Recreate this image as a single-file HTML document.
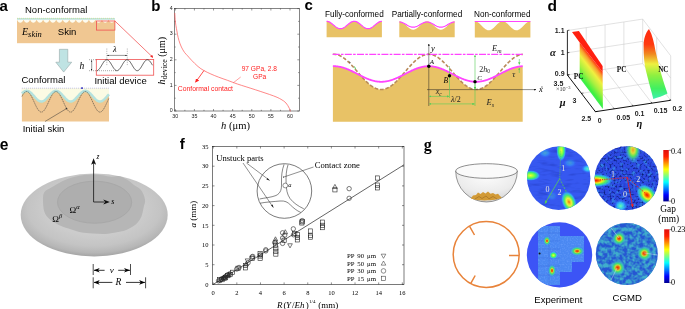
<!DOCTYPE html>
<html><head><meta charset="utf-8"><style>
html,body{margin:0;padding:0;background:#fff;width:685px;height:309px;overflow:hidden}
svg{display:block;will-change:transform}
.s{font-family:"Liberation Sans",sans-serif}
.r{font-family:"Liberation Serif",serif}
</style></head><body>
<svg width="685" height="309" viewBox="0 0 685 309">
<defs>
<marker id="ar" viewBox="0 0 10 10" refX="9" refY="5" markerWidth="4" markerHeight="4" orient="auto-start-reverse"><path d="M0,0 L10,5 L0,10 z" fill="#000"/></marker>
<marker id="arr" viewBox="0 0 10 10" refX="9" refY="5" markerWidth="5" markerHeight="5" orient="auto-start-reverse"><path d="M0,0 L10,5 L0,10 z" fill="#f22"/></marker>
<marker id="arg" viewBox="0 0 10 10" refX="9" refY="5" markerWidth="5" markerHeight="5" orient="auto-start-reverse"><path d="M0,0 L10,5 L0,10 z" fill="#3c3"/></marker>
<marker id="ar2" viewBox="0 0 10 10" refX="9" refY="5" markerWidth="3" markerHeight="3" orient="auto-start-reverse"><path d="M0,0 L10,5 L0,10 z" fill="#000"/></marker>
<marker id="arR" viewBox="0 0 10 10" refX="9" refY="5" markerWidth="4" markerHeight="4" orient="auto-start-reverse"><path d="M0,0 L10,5 L0,10 z" fill="#e22"/></marker>
<marker id="arG" viewBox="0 0 10 10" refX="9" refY="5" markerWidth="4" markerHeight="4" orient="auto-start-reverse"><path d="M0,0 L10,5 L0,10 z" fill="#5c5"/></marker>
<linearGradient id="jet" x1="0" y1="1" x2="0" y2="0">
<stop offset="0" stop-color="#00008f"/><stop offset="0.125" stop-color="#0000ff"/><stop offset="0.375" stop-color="#00ffff"/><stop offset="0.625" stop-color="#ffff00"/><stop offset="0.87" stop-color="#ff2000"/><stop offset="1" stop-color="#e01010"/>
</linearGradient>
<linearGradient id="surfL" gradientUnits="userSpaceOnUse" x1="591" y1="57.3" x2="571.2" y2="72.6">
<stop offset="0" stop-color="#ff3a10"/><stop offset="0.12" stop-color="#f8a030"/><stop offset="0.3" stop-color="#f0f040"/><stop offset="0.55" stop-color="#a8f040"/><stop offset="0.8" stop-color="#40f040"/><stop offset="1" stop-color="#30f070"/>
</linearGradient>
<linearGradient id="surfR" x1="0" y1="0" x2="0" y2="1">
<stop offset="0" stop-color="#ff2a10"/><stop offset="0.22" stop-color="#ff3a10"/><stop offset="0.36" stop-color="#f08a20"/><stop offset="0.5" stop-color="#eef040"/><stop offset="0.66" stop-color="#90f040"/><stop offset="0.85" stop-color="#40f060"/><stop offset="1" stop-color="#40f0b0"/>
</linearGradient>
<radialGradient id="eOut" cx="0.5" cy="0.42" r="0.58"><stop offset="0.55" stop-color="#cccccc"/><stop offset="0.78" stop-color="#c4c4c4"/><stop offset="0.92" stop-color="#b6b6b6"/><stop offset="1" stop-color="#a4a4a4"/></radialGradient>
<radialGradient id="bl" cx="0.5" cy="0.5" r="0.5"><stop offset="0" stop-color="#f01800"/><stop offset="0.18" stop-color="#ff7000"/><stop offset="0.35" stop-color="#f0f020"/><stop offset="0.55" stop-color="#50f060"/><stop offset="0.78" stop-color="#30c8f0" stop-opacity="0.75"/><stop offset="1" stop-color="#3060ff" stop-opacity="0"/></radialGradient>
<radialGradient id="bl2" cx="0.5" cy="0.5" r="0.5"><stop offset="0" stop-color="#e02800"/><stop offset="0.2" stop-color="#f07010"/><stop offset="0.34" stop-color="#c0d840"/><stop offset="0.52" stop-color="#40e070"/><stop offset="0.75" stop-color="#40c0c8" stop-opacity="0.6"/><stop offset="1" stop-color="#3070e0" stop-opacity="0"/></radialGradient>
<radialGradient id="blG" cx="0.5" cy="0.5" r="0.5"><stop offset="0" stop-color="#f0a020"/><stop offset="0.25" stop-color="#d8e040"/><stop offset="0.5" stop-color="#50e060"/><stop offset="0.75" stop-color="#40c0c8" stop-opacity="0.6"/><stop offset="1" stop-color="#3070e0" stop-opacity="0"/></radialGradient>
<radialGradient id="blO" cx="0.5" cy="0.5" r="0.5"><stop offset="0" stop-color="#f06010"/><stop offset="0.15" stop-color="#f0c020"/><stop offset="0.32" stop-color="#e8f040"/><stop offset="0.55" stop-color="#50f060"/><stop offset="0.78" stop-color="#30c8f0" stop-opacity="0.75"/><stop offset="1" stop-color="#3060ff" stop-opacity="0"/></radialGradient>
<radialGradient id="blY" cx="0.5" cy="0.5" r="0.5"><stop offset="0" stop-color="#f0ff30"/><stop offset="0.3" stop-color="#90ff40"/><stop offset="0.55" stop-color="#40f070"/><stop offset="0.8" stop-color="#30c8f0" stop-opacity="0.7"/><stop offset="1" stop-color="#3060ff" stop-opacity="0"/></radialGradient>
<radialGradient id="blC" cx="0.5" cy="0.5" r="0.5"><stop offset="0" stop-color="#60ffb0"/><stop offset="0.5" stop-color="#30d0ff" stop-opacity="0.8"/><stop offset="1" stop-color="#3060ff" stop-opacity="0"/></radialGradient>
<radialGradient id="bowl" cx="0.5" cy="0.2" r="0.8"><stop offset="0" stop-color="#fbfbfb"/><stop offset="0.6" stop-color="#ececec"/><stop offset="1" stop-color="#d4d4d4"/></radialGradient>
<filter id="nzD" x="0" y="0" width="100%" height="100%" color-interpolation-filters="sRGB"><feTurbulence type="fractalNoise" baseFrequency="0.5" numOctaves="2" seed="7"/><feColorMatrix type="matrix" values="0 0 0 0 0.04  0 0 0 0 0.1  0 0 0 0 0.45  3 0 0 0 -1.45"/><feComposite in2="SourceGraphic" operator="in"/></filter>
<filter id="nzC" x="0" y="0" width="100%" height="100%" color-interpolation-filters="sRGB"><feTurbulence type="fractalNoise" baseFrequency="0.25" numOctaves="2" seed="11"/><feColorMatrix type="matrix" values="0 0 0 0 0.25  0 0 0 0 0.68  0 0 0 0 0.8  2.6 0 0 0 -0.85"/><feComposite in2="SourceGraphic" operator="in"/></filter>
<filter id="nzC2" x="0" y="0" width="100%" height="100%" color-interpolation-filters="sRGB"><feTurbulence type="fractalNoise" baseFrequency="0.25" numOctaves="2" seed="21"/><feColorMatrix type="matrix" values="0 0 0 0 0.2  0 0 0 0 0.5  0 0 0 0 0.9  4 0 0 0 -2.1"/><feComposite in2="SourceGraphic" operator="in"/></filter>
<filter id="nzE" x="0" y="0" width="100%" height="100%" color-interpolation-filters="sRGB"><feTurbulence type="fractalNoise" baseFrequency="0.08 0.3" numOctaves="2" seed="5"/><feColorMatrix type="matrix" values="0 0 0 0 0.1  0 0 0 0 0.18  0 0 0 0 0.65  2 0 0 0 -1.0"/><feComposite in2="SourceGraphic" operator="in"/></filter>
<filter id="nzL" x="0" y="0" width="100%" height="100%" color-interpolation-filters="sRGB"><feTurbulence type="fractalNoise" baseFrequency="0.7" numOctaves="1" seed="3"/><feColorMatrix type="matrix" values="0 0 0 0 0.45  0 0 0 0 0.65  0 0 0 0 1  1.4 0 0 0 -0.62"/><feComposite in2="SourceGraphic" operator="in"/></filter>
<clipPath id="c1"><circle cx="558.7" cy="178.2" r="31.7"/></clipPath>
<clipPath id="c2"><circle cx="626.6" cy="178.2" r="32"/></clipPath>
<clipPath id="c3"><circle cx="559.5" cy="254.9" r="32.7"/></clipPath>
<clipPath id="c4"><circle cx="626.8" cy="254" r="31"/></clipPath>
</defs>

<text class="s" x="-0.6" y="10.7" font-size="15" font-weight="bold">a</text>
<text class="s" x="25" y="12.7" font-size="9.5">Non-conformal</text>
<rect x="17" y="18" width="98" height="25.2" fill="#f0c792"/>
<rect x="17" y="18" width="98" height="2" fill="#bfe4e2"/>
<path d="M17.00,19.8 C18.63,23.8 21.90,23.8 23.53,19.8 Z M23.53,19.8 C25.17,23.8 28.43,23.8 30.07,19.8 Z M30.07,19.8 C31.70,23.8 34.97,23.8 36.60,19.8 Z M36.60,19.8 C38.23,23.8 41.50,23.8 43.13,19.8 Z M43.13,19.8 C44.77,23.8 48.03,23.8 49.67,19.8 Z M49.67,19.8 C51.30,23.8 54.57,23.8 56.20,19.8 Z M56.20,19.8 C57.83,23.8 61.10,23.8 62.73,19.8 Z M62.73,19.8 C64.37,23.8 67.63,23.8 69.27,19.8 Z M69.27,19.8 C70.90,23.8 74.17,23.8 75.80,19.8 Z M75.80,19.8 C77.43,23.8 80.70,23.8 82.33,19.8 Z M82.33,19.8 C83.97,23.8 87.23,23.8 88.87,19.8 Z M88.87,19.8 C90.50,23.8 93.77,23.8 95.40,19.8 Z M95.40,19.8 C97.03,23.8 100.30,23.8 101.93,19.8 Z M101.93,19.8 C103.57,23.8 106.83,23.8 108.47,19.8 Z M108.47,19.8 C110.10,23.8 113.37,23.8 115.00,19.8 Z" fill="#fdfcf0"/>
<line x1="17" y1="18.3" x2="115" y2="18.3" stroke="#d8d870" stroke-width="0.6" stroke-dasharray="1,1"/>
<rect x="96.5" y="21" width="18.4" height="9.1" fill="none" stroke="#f05050" stroke-width="0.8"/>
<line x1="114.9" y1="21" x2="153" y2="57.5" stroke="#f04040" stroke-width="0.7" marker-end="url(#arR)"/>
<text class="r" x="22" y="35.4" font-size="10" font-style="italic">E<tspan font-size="8.5" dy="1.2">skin</tspan></text>
<text class="s" x="57.8" y="35" font-size="9.5">Skin</text>
<path d="M59.4,49.3 L67.8,49.3 L67.8,62.2 L71.7,62.2 L63.7,72.1 L55.8,62.2 L59.4,62.2 Z" fill="#bfe3e3" stroke="#8a9a9a" stroke-width="0.5"/>
<text class="s" x="21.5" y="83.3" font-size="9.5">Conformal</text>
<text class="r" x="79.5" y="68.8" font-size="9.5" font-style="italic">h</text>
<line x1="91.7" y1="60.4" x2="91.7" y2="70.4" stroke="#333" stroke-width="0.5" marker-start="url(#ar2)" marker-end="url(#ar2)"/>
<line x1="89" y1="59.7" x2="97" y2="59.7" stroke="#555" stroke-width="0.5" stroke-dasharray="1,1"/>
<line x1="89" y1="70.7" x2="117" y2="70.7" stroke="#555" stroke-width="0.5" stroke-dasharray="1,1"/>
<rect x="96.3" y="59.4" width="57.4" height="15.8" fill="none" stroke="#f05050" stroke-width="0.8"/>
<polyline points="96.80,70.69 97.29,70.59 97.79,70.36 98.28,70.02 98.77,69.56 99.26,69.00 99.76,68.35 100.25,67.62 100.74,66.85 101.24,66.03 101.73,65.19 102.22,64.36 102.72,63.54 103.21,62.76 103.70,62.04 104.19,61.39 104.69,60.84 105.18,60.38 105.67,60.03 106.17,59.81 106.66,59.71 107.15,59.73 107.64,59.89 108.14,60.16 108.63,60.56 109.12,61.06 109.62,61.66 110.11,62.34 110.60,63.09 111.09,63.88 111.59,64.71 112.08,65.55 112.57,66.38 113.07,67.18 113.56,67.94 114.05,68.63 114.55,69.25 115.04,69.76 115.53,70.18 116.02,70.48 116.52,70.65 117.01,70.70 117.50,70.62 118.00,70.41 118.49,70.09 118.98,69.65 119.47,69.10 119.97,68.47 120.46,67.76 120.95,66.99 121.45,66.18 121.94,65.35 122.43,64.51 122.92,63.69 123.42,62.90 123.91,62.17 124.40,61.51 124.90,60.93 125.39,60.45 125.88,60.09 126.38,59.84 126.87,59.71 127.36,59.72 127.85,59.85 128.35,60.10 128.84,60.48 129.33,60.96 129.83,61.54 130.32,62.21 130.81,62.95 131.30,63.74 131.80,64.56 132.29,65.40 132.78,66.23 133.28,67.04 133.77,67.80 134.26,68.51 134.75,69.14 135.25,69.68 135.74,70.11 136.23,70.43 136.73,70.63 137.22,70.70 137.71,70.64 138.21,70.46 138.70,70.16 139.19,69.74 139.68,69.21 140.18,68.59 140.67,67.90 141.16,67.14 141.66,66.33 142.15,65.50 142.64,64.66 143.13,63.84 143.63,63.04 144.12,62.30 144.61,61.62 145.11,61.03 145.60,60.53 146.09,60.14 146.58,59.87 147.08,59.73 147.57,59.71 148.06,59.82 148.56,60.05 149.05,60.40 149.54,60.87 150.04,61.43 150.53,62.08 151.02,62.81 151.51,63.59 152.01,64.41 152.50,65.24" fill="none" stroke="#333" stroke-width="0.8"/>
<line x1="106.8" y1="48.5" x2="106.8" y2="66" stroke="#777" stroke-width="0.5" stroke-dasharray="1.2,1"/>
<line x1="127.3" y1="48.5" x2="127.3" y2="66" stroke="#777" stroke-width="0.5" stroke-dasharray="1.2,1"/>
<line x1="107.3" y1="55.4" x2="126.8" y2="55.4" stroke="#333" stroke-width="0.5" marker-start="url(#ar2)" marker-end="url(#ar2)"/>
<text class="r" x="113" y="52.3" font-size="8.5" font-style="italic">λ</text>
<text class="s" x="94.4" y="84" font-size="9.5">Initial device</text>
<rect x="21.9" y="88" width="87.1" height="33.5" fill="#f0c792"/>
<polygon points="21.9,88 109,88 109.00,94.28 108.51,94.82 108.01,95.37 107.52,95.93 107.02,96.49 106.53,97.05 106.03,97.60 105.54,98.13 105.04,98.64 104.55,99.13 104.05,99.58 103.56,99.99 103.06,100.36 102.57,100.69 102.07,100.96 101.58,101.18 101.08,101.34 100.59,101.45 100.09,101.50 99.60,101.48 99.10,101.41 98.61,101.28 98.11,101.09 97.62,100.85 97.12,100.56 96.63,100.21 96.13,99.82 95.64,99.39 95.14,98.92 94.65,98.43 94.15,97.91 93.66,97.37 93.16,96.81 92.67,96.25 92.17,95.69 91.68,95.13 91.18,94.59 90.69,94.06 90.19,93.56 89.70,93.09 89.20,92.65 88.71,92.25 88.21,91.90 87.72,91.60 87.22,91.35 86.73,91.15 86.24,91.01 85.74,90.92 85.25,90.90 84.75,90.94 84.26,91.03 83.76,91.19 83.27,91.40 82.77,91.66 82.28,91.98 81.78,92.34 81.29,92.74 80.79,93.19 80.30,93.67 79.80,94.18 79.31,94.71 78.81,95.25 78.32,95.81 77.82,96.37 77.33,96.93 76.83,97.49 76.34,98.02 75.84,98.54 75.35,99.03 74.85,99.49 74.36,99.91 73.86,100.29 73.37,100.62 72.87,100.91 72.38,101.14 71.88,101.32 71.39,101.43 70.89,101.49 70.40,101.49 69.90,101.43 69.41,101.31 68.91,101.14 68.42,100.91 67.92,100.62 67.43,100.29 66.93,99.90 66.44,99.48 65.94,99.02 65.45,98.53 64.96,98.02 64.46,97.48 63.97,96.93 63.47,96.37 62.98,95.80 62.48,95.25 61.99,94.70 61.49,94.17 61.00,93.66 60.50,93.18 60.01,92.74 59.51,92.33 59.02,91.97 58.52,91.66 58.03,91.39 57.53,91.18 57.04,91.03 56.54,90.94 56.05,90.90 55.55,90.92 55.06,91.01 54.56,91.15 54.07,91.35 53.57,91.60 53.08,91.91 52.58,92.26 52.09,92.66 51.59,93.10 51.10,93.57 50.60,94.07 50.11,94.60 49.61,95.14 49.12,95.70 48.62,96.26 48.13,96.82 47.63,97.37 47.14,97.91 46.64,98.44 46.15,98.93 45.65,99.40 45.16,99.83 44.66,100.22 44.17,100.56 43.67,100.85 43.18,101.10 42.69,101.28 42.19,101.41 41.70,101.49 41.20,101.50 40.71,101.45 40.21,101.34 39.72,101.18 39.22,100.96 38.73,100.68 38.23,100.36 37.74,99.99 37.24,99.57 36.75,99.12 36.25,98.64 35.76,98.12 35.26,97.59 34.77,97.04 34.27,96.48 33.78,95.92 33.28,95.36 32.79,94.81 32.29,94.28 31.80,93.76 31.30,93.28 30.81,92.83 30.31,92.41 29.82,92.04 29.32,91.72 28.83,91.44 28.33,91.22 27.84,91.06 27.34,90.95 26.85,90.90 26.35,90.91 25.86,90.99 25.36,91.12 24.87,91.30 24.37,91.55 23.88,91.84 23.38,92.18 22.89,92.57 22.39,93.00 21.90,93.47" fill="#fbfbe4"/>
<polyline points="21.90,93.47 22.39,93.00 22.89,92.57 23.38,92.18 23.88,91.84 24.37,91.55 24.87,91.30 25.36,91.12 25.86,90.99 26.35,90.91 26.85,90.90 27.34,90.95 27.84,91.06 28.33,91.22 28.83,91.44 29.32,91.72 29.82,92.04 30.31,92.41 30.81,92.83 31.30,93.28 31.80,93.76 32.29,94.28 32.79,94.81 33.28,95.36 33.78,95.92 34.27,96.48 34.77,97.04 35.26,97.59 35.76,98.12 36.25,98.64 36.75,99.12 37.24,99.57 37.74,99.99 38.23,100.36 38.73,100.68 39.22,100.96 39.72,101.18 40.21,101.34 40.71,101.45 41.20,101.50 41.70,101.49 42.19,101.41 42.69,101.28 43.18,101.10 43.67,100.85 44.17,100.56 44.66,100.22 45.16,99.83 45.65,99.40 46.15,98.93 46.64,98.44 47.14,97.91 47.63,97.37 48.13,96.82 48.62,96.26 49.12,95.70 49.61,95.14 50.11,94.60 50.60,94.07 51.10,93.57 51.59,93.10 52.09,92.66 52.58,92.26 53.08,91.91 53.57,91.60 54.07,91.35 54.56,91.15 55.06,91.01 55.55,90.92 56.05,90.90 56.54,90.94 57.04,91.03 57.53,91.18 58.03,91.39 58.52,91.66 59.02,91.97 59.51,92.33 60.01,92.74 60.50,93.18 61.00,93.66 61.49,94.17 61.99,94.70 62.48,95.25 62.98,95.80 63.47,96.37 63.97,96.93 64.46,97.48 64.96,98.02 65.45,98.53 65.94,99.02 66.44,99.48 66.93,99.90 67.43,100.29 67.92,100.62 68.42,100.91 68.91,101.14 69.41,101.31 69.90,101.43 70.40,101.49 70.89,101.49 71.39,101.43 71.88,101.32 72.38,101.14 72.87,100.91 73.37,100.62 73.86,100.29 74.36,99.91 74.85,99.49 75.35,99.03 75.84,98.54 76.34,98.02 76.83,97.49 77.33,96.93 77.82,96.37 78.32,95.81 78.81,95.25 79.31,94.71 79.80,94.18 80.30,93.67 80.79,93.19 81.29,92.74 81.78,92.34 82.28,91.98 82.77,91.66 83.27,91.40 83.76,91.19 84.26,91.03 84.75,90.94 85.25,90.90 85.74,90.92 86.24,91.01 86.73,91.15 87.22,91.35 87.72,91.60 88.21,91.90 88.71,92.25 89.20,92.65 89.70,93.09 90.19,93.56 90.69,94.06 91.18,94.59 91.68,95.13 92.17,95.69 92.67,96.25 93.16,96.81 93.66,97.37 94.15,97.91 94.65,98.43 95.14,98.92 95.64,99.39 96.13,99.82 96.63,100.21 97.12,100.56 97.62,100.85 98.11,101.09 98.61,101.28 99.10,101.41 99.60,101.48 100.09,101.50 100.59,101.45 101.08,101.34 101.58,101.18 102.07,100.96 102.57,100.69 103.06,100.36 103.56,99.99 104.05,99.58 104.55,99.13 105.04,98.64 105.54,98.13 106.03,97.60 106.53,97.05 107.02,96.49 107.52,95.93 108.01,95.37 108.51,94.82 109.00,94.28" fill="none" stroke="#b4e2de" stroke-width="2.6"/>
<polyline points="21.90,95.37 22.39,94.90 22.89,94.47 23.38,94.08 23.88,93.74 24.37,93.45 24.87,93.20 25.36,93.02 25.86,92.89 26.35,92.81 26.85,92.80 27.34,92.85 27.84,92.96 28.33,93.12 28.83,93.34 29.32,93.62 29.82,93.94 30.31,94.31 30.81,94.73 31.30,95.18 31.80,95.66 32.29,96.18 32.79,96.71 33.28,97.26 33.78,97.82 34.27,98.38 34.77,98.94 35.26,99.49 35.76,100.02 36.25,100.54 36.75,101.02 37.24,101.47 37.74,101.89 38.23,102.26 38.73,102.58 39.22,102.86 39.72,103.08 40.21,103.24 40.71,103.35 41.20,103.40 41.70,103.39 42.19,103.31 42.69,103.18 43.18,103.00 43.67,102.75 44.17,102.46 44.66,102.12 45.16,101.73 45.65,101.30 46.15,100.83 46.64,100.34 47.14,99.81 47.63,99.27 48.13,98.72 48.62,98.16 49.12,97.60 49.61,97.04 50.11,96.50 50.60,95.97 51.10,95.47 51.59,95.00 52.09,94.56 52.58,94.16 53.08,93.81 53.57,93.50 54.07,93.25 54.56,93.05 55.06,92.91 55.55,92.82 56.05,92.80 56.54,92.84 57.04,92.93 57.53,93.08 58.03,93.29 58.52,93.56 59.02,93.87 59.51,94.23 60.01,94.64 60.50,95.08 61.00,95.56 61.49,96.07 61.99,96.60 62.48,97.15 62.98,97.70 63.47,98.27 63.97,98.83 64.46,99.38 64.96,99.92 65.45,100.43 65.94,100.92 66.44,101.38 66.93,101.80 67.43,102.19 67.92,102.52 68.42,102.81 68.91,103.04 69.41,103.21 69.90,103.33 70.40,103.39 70.89,103.39 71.39,103.33 71.88,103.22 72.38,103.04 72.87,102.81 73.37,102.52 73.86,102.19 74.36,101.81 74.85,101.39 75.35,100.93 75.84,100.44 76.34,99.92 76.83,99.39 77.33,98.83 77.82,98.27 78.32,97.71 78.81,97.15 79.31,96.61 79.80,96.08 80.30,95.57 80.79,95.09 81.29,94.64 81.78,94.24 82.28,93.88 82.77,93.56 83.27,93.30 83.76,93.09 84.26,92.93 84.75,92.84 85.25,92.80 85.74,92.82 86.24,92.91 86.73,93.05 87.22,93.25 87.72,93.50 88.21,93.80 88.71,94.15 89.20,94.55 89.70,94.99 90.19,95.46 90.69,95.96 91.18,96.49 91.68,97.03 92.17,97.59 92.67,98.15 93.16,98.71 93.66,99.27 94.15,99.81 94.65,100.33 95.14,100.82 95.64,101.29 96.13,101.72 96.63,102.11 97.12,102.46 97.62,102.75 98.11,102.99 98.61,103.18 99.10,103.31 99.60,103.38 100.09,103.40 100.59,103.35 101.08,103.24 101.58,103.08 102.07,102.86 102.57,102.59 103.06,102.26 103.56,101.89 104.05,101.48 104.55,101.03 105.04,100.54 105.54,100.03 106.03,99.50 106.53,98.95 107.02,98.39 107.52,97.83 108.01,97.27 108.51,96.72 109.00,96.18" fill="none" stroke="#d8d890" stroke-width="0.6" stroke-dasharray="1,1"/>
<line x1="21.9" y1="88.2" x2="109" y2="88.2" stroke="#9a9ae0" stroke-width="0.6" stroke-dasharray="1,1"/>
<rect x="81" y="87.4" width="2" height="1.4" fill="#3030c0"/>
<polyline points="21.90,96.49 22.39,95.59 22.89,94.75 23.38,94.00 23.88,93.33 24.37,92.75 24.87,92.28 25.36,91.92 25.86,91.67 26.35,91.53 26.85,91.51 27.34,91.60 27.84,91.81 28.33,92.13 28.83,92.55 29.32,93.09 29.82,93.72 30.31,94.44 30.81,95.24 31.30,96.12 31.80,97.07 32.29,98.06 32.79,99.10 33.28,100.17 33.78,101.25 34.27,102.35 34.77,103.43 35.26,104.50 35.76,105.54 36.25,106.53 36.75,107.48 37.24,108.35 37.74,109.16 38.23,109.88 38.73,110.51 39.22,111.05 39.72,111.47 40.21,111.79 40.71,112.00 41.20,112.09 41.70,112.07 42.19,111.93 42.69,111.68 43.18,111.32 43.67,110.85 44.17,110.27 44.66,109.61 45.16,108.85 45.65,108.01 46.15,107.11 46.64,106.14 47.14,105.13 47.63,104.08 48.13,103.00 48.62,101.91 49.12,100.82 49.61,99.74 50.11,98.68 50.60,97.66 51.10,96.69 51.59,95.77 52.09,94.92 52.58,94.14 53.08,93.46 53.57,92.86 54.07,92.37 54.56,91.99 55.06,91.71 55.55,91.55 56.05,91.50 56.54,91.57 57.04,91.75 57.53,92.05 58.03,92.46 58.52,92.97 59.02,93.58 59.51,94.28 60.01,95.07 60.50,95.94 61.00,96.87 61.49,97.85 61.99,98.88 62.48,99.95 62.98,101.03 63.47,102.12 63.97,103.21 64.46,104.28 64.96,105.33 65.45,106.33 65.94,107.29 66.44,108.18 66.93,109.00 67.43,109.74 67.92,110.39 68.42,110.94 68.91,111.39 69.41,111.74 69.90,111.97 70.40,112.09 70.89,112.09 71.39,111.97 71.88,111.74 72.38,111.40 72.87,110.95 73.37,110.40 73.86,109.75 74.36,109.01 74.85,108.19 75.35,107.30 75.84,106.35 76.34,105.34 76.83,104.30 77.33,103.23 77.82,102.14 78.32,101.05 78.81,99.96 79.31,98.90 79.80,97.87 80.30,96.88 80.79,95.95 81.29,95.09 81.78,94.30 82.28,93.59 82.77,92.98 83.27,92.46 83.76,92.06 84.26,91.76 84.75,91.57 85.25,91.50 85.74,91.55 86.24,91.71 86.73,91.98 87.22,92.37 87.72,92.86 88.21,93.45 88.71,94.13 89.20,94.90 89.70,95.75 90.19,96.67 90.69,97.65 91.18,98.67 91.68,99.72 92.17,100.81 92.67,101.90 93.16,102.99 93.66,104.06 94.15,105.12 94.65,106.13 95.14,107.10 95.64,108.00 96.13,108.84 96.63,109.59 97.12,110.26 97.62,110.84 98.11,111.31 98.61,111.68 99.10,111.93 99.60,112.07 100.09,112.10 100.59,112.00 101.08,111.80 101.58,111.48 102.07,111.05 102.57,110.52 103.06,109.89 103.56,109.17 104.05,108.37 104.55,107.49 105.04,106.55 105.54,105.55 106.03,104.52 106.53,103.45 107.02,102.36 107.52,101.27 108.01,100.18 108.51,99.11 109.00,98.08" fill="none" stroke="#333" stroke-width="0.55" stroke-dasharray="1.5,0.6"/>
<line x1="45" y1="121.5" x2="66.5" y2="108.6" stroke="#333" stroke-width="0.5"/>
<circle cx="66.5" cy="108.6" r="0.8" fill="#333"/>
<text class="s" x="22.7" y="131.7" font-size="9.5">Initial skin</text>
<text class="s" x="151.2" y="10.7" font-size="15" font-weight="bold">b</text>
<rect x="174.5" y="8.5" width="124.80000000000001" height="102.5" fill="none" stroke="#333" stroke-width="0.6"/>
<text class="s" x="175.30" y="117.9" font-size="5.3" text-anchor="middle" fill="#222">30</text>
<text class="s" x="194.42" y="117.9" font-size="5.3" text-anchor="middle" fill="#222">35</text>
<text class="s" x="213.53" y="117.9" font-size="5.3" text-anchor="middle" fill="#222">40</text>
<text class="s" x="232.65" y="117.9" font-size="5.3" text-anchor="middle" fill="#222">45</text>
<text class="s" x="251.77" y="117.9" font-size="5.3" text-anchor="middle" fill="#222">50</text>
<text class="s" x="270.88" y="117.9" font-size="5.3" text-anchor="middle" fill="#222">55</text>
<text class="s" x="290.00" y="117.9" font-size="5.3" text-anchor="middle" fill="#222">60</text>
<text class="s" x="172.8" y="112.15" font-size="5.3" text-anchor="end" fill="#222">0</text>
<text class="s" x="172.8" y="86.55" font-size="5.3" text-anchor="end" fill="#222">1</text>
<text class="s" x="172.8" y="60.95" font-size="5.3" text-anchor="end" fill="#222">2</text>
<text class="s" x="172.8" y="35.35" font-size="5.3" text-anchor="end" fill="#222">3</text>
<text class="s" x="172.8" y="9.75" font-size="5.3" text-anchor="end" fill="#222">4</text>
<path d="M175.30,111 v-2 M175.30,8.5 v2 M194.42,111 v-2 M194.42,8.5 v2 M213.53,111 v-2 M213.53,8.5 v2 M232.65,111 v-2 M232.65,8.5 v2 M251.77,111 v-2 M251.77,8.5 v2 M270.88,111 v-2 M270.88,8.5 v2 M290.00,111 v-2 M290.00,8.5 v2 M174.5,111.00 h2 M299.3,111.00 h-2 M174.5,85.40 h2 M299.3,85.40 h-2 M174.5,59.80 h2 M299.3,59.80 h-2 M174.5,34.20 h2 M299.3,34.20 h-2 M174.5,8.60 h2 M299.3,8.60 h-2 M184.86,111 v-1.2 M184.86,8.5 v1.2 M203.98,111 v-1.2 M203.98,8.5 v1.2 M223.09,111 v-1.2 M223.09,8.5 v1.2 M242.21,111 v-1.2 M242.21,8.5 v1.2 M261.32,111 v-1.2 M261.32,8.5 v1.2 M280.44,111 v-1.2 M280.44,8.5 v1.2 M174.5,98.20 h1.2 M299.3,98.20 h-1.2 M174.5,72.60 h1.2 M299.3,72.60 h-1.2 M174.5,47.00 h1.2 M299.3,47.00 h-1.2 M174.5,21.40 h1.2 M299.3,21.40 h-1.2" stroke="#333" stroke-width="0.5" fill="none"/>
<text class="r" transform="translate(164.6,84.6) rotate(-90)" font-size="10"><tspan font-style="italic">h</tspan><tspan font-size="7.8" dy="2">device</tspan><tspan dy="-2"> (μm)</tspan></text>
<text class="r" x="221" y="128.7" font-size="10.6"><tspan font-style="italic">h</tspan> (μm)</text>
<path d="M174.8,13 C174.90,14.50 175.13,19.45 175.4,22 C175.67,24.55 176.05,26.22 176.4,28.3 C176.75,30.38 177.07,32.43 177.5,34.5 C177.93,36.57 178.35,38.62 179,40.7 C179.65,42.78 180.48,45.05 181.4,47 C182.32,48.95 183.47,50.93 184.5,52.4 C185.53,53.87 186.43,54.50 187.6,55.8 C188.77,57.10 189.77,58.42 191.5,60.2 C193.23,61.98 195.95,64.78 198,66.5 C200.05,68.22 201.65,69.25 203.8,70.5 C205.95,71.75 208.42,72.88 210.9,74 C213.38,75.12 215.90,76.13 218.7,77.2 C221.50,78.27 224.53,79.25 227.7,80.4 C230.87,81.55 233.07,82.53 237.7,84.1 C242.33,85.67 249.57,87.85 255.5,89.8 C261.43,91.75 269.05,94.22 273.3,95.8 C277.55,97.38 278.88,98.10 281,99.3 C283.12,100.50 284.62,101.50 286,103 C287.38,104.50 288.57,106.88 289.3,108.3 C290.03,109.72 290.22,110.97 290.4,111.5" fill="none" stroke="#f55" stroke-width="0.7"/>
<line x1="204" y1="70.5" x2="195.5" y2="82.3" stroke="#f22" stroke-width="0.8" marker-end="url(#arr)"/>
<line x1="233.3" y1="82.8" x2="240.7" y2="77" stroke="#f44" stroke-width="0.5"/>
<text class="s" x="177.8" y="91.4" font-size="6.8" fill="#f22">Conformal contact</text>
<text class="s" x="241.7" y="70.9" font-size="6.6" fill="#f22">97 GPa, 2.8</text>
<text class="s" x="253" y="78.9" font-size="6.6" fill="#f22">GPa</text>
<text class="s" x="304.5" y="10.4" font-size="15" font-weight="bold">c</text>
<text class="s" x="325" y="16.6" font-size="8.2">Fully-conformed</text>
<text class="s" x="391.7" y="16.6" font-size="8.2">Partially-conformed</text>
<text class="s" x="474" y="16.6" font-size="8.2">Non-conformed</text>
<polygon points="326.60,21.30 327.09,21.32 327.59,21.39 328.08,21.51 328.58,21.67 329.07,21.87 329.56,22.11 330.06,22.38 330.55,22.69 331.04,23.03 331.54,23.39 332.03,23.78 332.53,24.18 333.02,24.59 333.51,25.00 334.01,25.41 334.50,25.82 334.99,26.22 335.49,26.61 335.98,26.97 336.48,27.31 336.97,27.62 337.46,27.89 337.96,28.13 338.45,28.33 338.94,28.49 339.44,28.61 339.93,28.68 340.43,28.70 340.92,28.68 341.41,28.61 341.91,28.49 342.40,28.33 342.89,28.13 343.39,27.89 343.88,27.62 344.38,27.31 344.87,26.97 345.36,26.61 345.86,26.22 346.35,25.82 346.84,25.41 347.34,25.00 347.83,24.59 348.32,24.18 348.82,23.78 349.31,23.39 349.81,23.03 350.30,22.69 350.79,22.38 351.29,22.11 351.78,21.87 352.27,21.67 352.77,21.51 353.26,21.39 353.76,21.32 354.25,21.30 354.74,21.32 355.24,21.39 355.73,21.51 356.23,21.67 356.72,21.87 357.21,22.11 357.71,22.38 358.20,22.69 358.69,23.03 359.19,23.39 359.68,23.78 360.18,24.18 360.67,24.59 361.16,25.00 361.66,25.41 362.15,25.82 362.64,26.22 363.14,26.61 363.63,26.97 364.12,27.31 364.62,27.62 365.11,27.89 365.61,28.13 366.10,28.33 366.59,28.49 367.09,28.61 367.58,28.68 368.07,28.70 368.57,28.68 369.06,28.61 369.56,28.49 370.05,28.33 370.54,28.13 371.04,27.89 371.53,27.62 372.02,27.31 372.52,26.97 373.01,26.61 373.51,26.22 374.00,25.82 374.49,25.41 374.99,25.00 375.48,24.59 375.97,24.18 376.47,23.78 376.96,23.39 377.46,23.03 377.95,22.69 378.44,22.38 378.94,22.11 379.43,21.87 379.92,21.67 380.42,21.51 380.91,21.39 381.41,21.32 381.90,21.30 381.9,37.3 326.6,37.3" fill="#e8c266"/>
<polyline points="326.60,21.30 327.09,21.32 327.59,21.39 328.08,21.51 328.58,21.67 329.07,21.87 329.56,22.11 330.06,22.38 330.55,22.69 331.04,23.03 331.54,23.39 332.03,23.78 332.53,24.18 333.02,24.59 333.51,25.00 334.01,25.41 334.50,25.82 334.99,26.22 335.49,26.61 335.98,26.97 336.48,27.31 336.97,27.62 337.46,27.89 337.96,28.13 338.45,28.33 338.94,28.49 339.44,28.61 339.93,28.68 340.43,28.70 340.92,28.68 341.41,28.61 341.91,28.49 342.40,28.33 342.89,28.13 343.39,27.89 343.88,27.62 344.38,27.31 344.87,26.97 345.36,26.61 345.86,26.22 346.35,25.82 346.84,25.41 347.34,25.00 347.83,24.59 348.32,24.18 348.82,23.78 349.31,23.39 349.81,23.03 350.30,22.69 350.79,22.38 351.29,22.11 351.78,21.87 352.27,21.67 352.77,21.51 353.26,21.39 353.76,21.32 354.25,21.30 354.74,21.32 355.24,21.39 355.73,21.51 356.23,21.67 356.72,21.87 357.21,22.11 357.71,22.38 358.20,22.69 358.69,23.03 359.19,23.39 359.68,23.78 360.18,24.18 360.67,24.59 361.16,25.00 361.66,25.41 362.15,25.82 362.64,26.22 363.14,26.61 363.63,26.97 364.12,27.31 364.62,27.62 365.11,27.89 365.61,28.13 366.10,28.33 366.59,28.49 367.09,28.61 367.58,28.68 368.07,28.70 368.57,28.68 369.06,28.61 369.56,28.49 370.05,28.33 370.54,28.13 371.04,27.89 371.53,27.62 372.02,27.31 372.52,26.97 373.01,26.61 373.51,26.22 374.00,25.82 374.49,25.41 374.99,25.00 375.48,24.59 375.97,24.18 376.47,23.78 376.96,23.39 377.46,23.03 377.95,22.69 378.44,22.38 378.94,22.11 379.43,21.87 379.92,21.67 380.42,21.51 380.91,21.39 381.41,21.32 381.90,21.30" fill="none" stroke="#ff44ff" stroke-width="1.2"/>
<polygon points="399.30,21.30 399.79,21.33 400.29,21.41 400.78,21.54 401.28,21.72 401.77,21.94 402.27,22.22 402.76,22.53 403.26,22.88 403.75,23.27 404.25,23.68 404.74,24.11 405.24,24.57 405.73,25.03 406.23,25.50 406.72,25.97 407.21,26.43 407.71,26.89 408.20,27.32 408.70,27.73 409.19,28.12 409.69,28.47 410.18,28.78 410.68,29.06 411.17,29.28 411.67,29.46 412.16,29.59 412.66,29.67 413.15,29.70 413.64,29.67 414.14,29.59 414.63,29.46 415.13,29.28 415.62,29.06 416.12,28.78 416.61,28.47 417.11,28.12 417.60,27.73 418.10,27.32 418.59,26.89 419.09,26.43 419.58,25.97 420.07,25.50 420.57,25.03 421.06,24.57 421.56,24.11 422.05,23.68 422.55,23.27 423.04,22.88 423.54,22.53 424.03,22.22 424.53,21.94 425.02,21.72 425.52,21.54 426.01,21.41 426.51,21.33 427.00,21.30 427.49,21.33 427.99,21.41 428.48,21.54 428.98,21.72 429.47,21.94 429.97,22.22 430.46,22.53 430.96,22.88 431.45,23.27 431.95,23.68 432.44,24.11 432.94,24.57 433.43,25.03 433.93,25.50 434.42,25.97 434.91,26.43 435.41,26.89 435.90,27.32 436.40,27.73 436.89,28.12 437.39,28.47 437.88,28.78 438.38,29.06 438.87,29.28 439.37,29.46 439.86,29.59 440.36,29.67 440.85,29.70 441.34,29.67 441.84,29.59 442.33,29.46 442.83,29.28 443.32,29.06 443.82,28.78 444.31,28.47 444.81,28.12 445.30,27.73 445.80,27.32 446.29,26.89 446.79,26.43 447.28,25.97 447.77,25.50 448.27,25.03 448.76,24.57 449.26,24.11 449.75,23.68 450.25,23.27 450.74,22.88 451.24,22.53 451.73,22.22 452.23,21.94 452.72,21.72 453.22,21.54 453.71,21.41 454.21,21.33 454.70,21.30 454.7,37.3 399.3,37.3" fill="#e8c266"/>
<polyline points="399.30,22.00 399.79,22.02 400.29,22.07 400.78,22.15 401.28,22.26 401.77,22.40 402.27,22.57 402.76,22.76 403.26,22.98 403.75,23.22 404.25,23.47 404.74,23.74 405.24,24.02 405.73,24.31 406.23,24.60 406.72,24.89 407.21,25.18 407.71,25.46 408.20,25.73 408.70,25.98 409.19,26.22 409.69,26.44 410.18,26.63 410.68,26.80 411.17,26.94 411.67,27.05 412.16,27.13 412.66,27.18 413.15,27.20 413.64,27.18 414.14,27.13 414.63,27.05 415.13,26.94 415.62,26.80 416.12,26.63 416.61,26.44 417.11,26.22 417.60,25.98 418.10,25.73 418.59,25.46 419.09,25.18 419.58,24.89 420.07,24.60 420.57,24.31 421.06,24.02 421.56,23.74 422.05,23.47 422.55,23.22 423.04,22.98 423.54,22.76 424.03,22.57 424.53,22.40 425.02,22.26 425.52,22.15 426.01,22.07 426.51,22.02 427.00,22.00 427.49,22.02 427.99,22.07 428.48,22.15 428.98,22.26 429.47,22.40 429.97,22.57 430.46,22.76 430.96,22.98 431.45,23.22 431.95,23.47 432.44,23.74 432.94,24.02 433.43,24.31 433.93,24.60 434.42,24.89 434.91,25.18 435.41,25.46 435.90,25.73 436.40,25.98 436.89,26.22 437.39,26.44 437.88,26.63 438.38,26.80 438.87,26.94 439.37,27.05 439.86,27.13 440.36,27.18 440.85,27.20 441.34,27.18 441.84,27.13 442.33,27.05 442.83,26.94 443.32,26.80 443.82,26.63 444.31,26.44 444.81,26.22 445.30,25.98 445.80,25.73 446.29,25.46 446.79,25.18 447.28,24.89 447.77,24.60 448.27,24.31 448.76,24.02 449.26,23.74 449.75,23.47 450.25,23.22 450.74,22.98 451.24,22.76 451.73,22.57 452.23,22.40 452.72,22.26 453.22,22.15 453.71,22.07 454.21,22.02 454.70,22.00" fill="none" stroke="#ff44ff" stroke-width="1.2"/>
<polygon points="474.80,21.30 475.29,21.33 475.78,21.41 476.28,21.55 476.77,21.74 477.26,21.98 477.75,22.27 478.24,22.60 478.74,22.97 479.23,23.37 479.72,23.81 480.21,24.27 480.70,24.75 481.20,25.24 481.69,25.74 482.18,26.24 482.67,26.73 483.16,27.21 483.66,27.68 484.15,28.12 484.64,28.54 485.13,28.91 485.62,29.26 486.12,29.55 486.61,29.81 487.10,30.01 487.59,30.16 488.08,30.26 488.58,30.30 489.07,30.28 489.56,30.22 490.05,30.09 490.55,29.91 491.04,29.69 491.53,29.41 492.02,29.09 492.51,28.73 493.01,28.33 493.50,27.90 493.99,27.45 494.48,26.97 494.97,26.49 495.47,25.99 495.96,25.49 496.45,24.99 496.94,24.50 497.43,24.03 497.93,23.59 498.42,23.17 498.91,22.78 499.40,22.43 499.89,22.12 500.39,21.85 500.88,21.64 501.37,21.47 501.86,21.36 502.35,21.31 502.85,21.31 503.34,21.36 503.83,21.47 504.32,21.64 504.81,21.85 505.31,22.12 505.80,22.43 506.29,22.78 506.78,23.17 507.27,23.59 507.77,24.03 508.26,24.50 508.75,24.99 509.24,25.49 509.73,25.99 510.23,26.49 510.72,26.97 511.21,27.45 511.70,27.90 512.19,28.33 512.69,28.73 513.18,29.09 513.67,29.41 514.16,29.69 514.65,29.91 515.15,30.09 515.64,30.22 516.13,30.28 516.62,30.30 517.12,30.26 517.61,30.16 518.10,30.01 518.59,29.81 519.08,29.55 519.58,29.26 520.07,28.91 520.56,28.54 521.05,28.12 521.54,27.68 522.04,27.21 522.53,26.73 523.02,26.24 523.51,25.74 524.00,25.24 524.50,24.75 524.99,24.27 525.48,23.81 525.97,23.37 526.46,22.97 526.96,22.60 527.45,22.27 527.94,21.98 528.43,21.74 528.92,21.55 529.42,21.41 529.91,21.33 530.40,21.30 530.4,37.4 474.8,37.4" fill="#e8c266"/>
<line x1="474.8" y1="21.5" x2="530.4" y2="21.5" stroke="#ff44ff" stroke-width="1.2"/>
<polygon points="332.90,66.21 333.37,66.20 333.85,66.20 334.32,66.20 334.80,66.22 335.27,66.24 335.75,66.26 336.22,66.30 336.70,66.34 337.17,66.39 337.64,66.45 338.12,66.52 338.59,66.59 339.07,66.67 339.54,66.76 340.02,66.85 340.49,66.95 340.97,67.06 341.44,67.18 341.92,67.30 342.39,67.43 342.86,67.56 343.34,67.70 343.81,67.85 344.29,68.01 344.76,68.17 345.24,68.33 345.71,68.50 346.19,68.68 346.66,68.86 347.13,69.05 347.61,69.24 348.08,69.44 348.56,69.64 349.03,69.84 349.51,70.05 349.98,70.26 350.46,70.48 350.93,70.70 351.41,70.93 351.88,71.15 352.35,71.38 352.83,71.61 353.30,71.85 353.78,72.08 354.25,72.32 354.73,72.56 355.20,72.80 355.68,73.05 356.15,73.29 356.62,73.54 357.10,73.78 357.57,74.03 358.05,74.27 358.52,74.52 359.00,74.76 359.47,75.00 359.95,75.25 360.42,75.49 360.90,75.80 361.37,76.33 361.84,76.87 362.32,77.39 362.79,77.92 363.27,78.43 363.74,78.94 364.22,79.45 364.69,79.94 365.17,80.43 365.64,80.91 366.12,81.38 366.59,81.84 367.06,82.29 367.54,82.73 368.01,83.16 368.49,83.58 368.96,83.99 369.44,84.39 369.91,84.77 370.39,85.14 370.86,85.50 371.33,85.84 371.81,86.17 372.28,86.49 372.76,86.79 373.23,87.08 373.71,87.35 374.18,87.61 374.66,87.85 375.13,88.08 375.61,88.28 376.08,88.48 376.55,88.66 377.03,88.82 377.50,88.96 377.98,89.09 378.45,89.20 378.93,89.29 379.40,89.37 379.88,89.43 380.35,89.47 380.82,89.49 381.30,89.50 381.77,89.49 382.25,89.46 382.72,89.42 383.20,89.35 383.67,89.27 384.15,89.18 384.62,89.06 385.10,88.93 385.57,88.79 386.04,88.62 386.52,88.44 386.99,88.24 387.47,88.03 387.94,87.80 388.42,87.56 388.89,87.30 389.37,87.02 389.84,86.73 390.31,86.42 390.79,86.11 391.26,85.77 391.74,85.42 392.21,85.06 392.69,84.69 393.16,84.30 393.64,83.91 394.11,83.50 394.58,83.07 395.06,82.64 395.53,82.20 396.01,81.75 396.48,81.28 396.96,80.81 397.43,80.33 397.91,79.84 398.38,79.34 398.86,78.84 399.33,78.33 399.80,77.81 400.28,77.28 400.75,76.76 401.23,76.22 401.70,75.68 402.18,75.44 402.65,75.20 403.13,74.95 403.60,74.71 404.07,74.46 404.55,74.22 405.02,73.97 405.50,73.73 405.97,73.48 406.45,73.24 406.92,73.00 407.40,72.75 407.87,72.51 408.35,72.27 408.82,72.04 409.29,71.80 409.77,71.57 410.24,71.33 410.72,71.11 411.19,70.88 411.67,70.66 412.14,70.44 412.62,70.22 413.09,70.01 413.56,69.80 414.04,69.59 414.51,69.39 414.99,69.20 415.46,69.01 415.94,68.82 416.41,68.64 416.89,68.47 417.36,68.30 417.84,68.13 418.31,67.97 418.78,67.82 419.26,67.67 419.73,67.53 420.21,67.40 420.68,67.27 421.16,67.15 421.63,67.04 422.11,66.93 422.58,66.83 423.06,66.74 423.53,66.65 424.00,66.57 424.48,66.50 424.95,66.44 425.43,66.38 425.90,66.33 426.38,66.29 426.85,66.26 427.33,66.23 427.80,66.21 428.27,66.20 428.75,66.20 429.22,66.20 429.70,66.22 430.17,66.24 430.65,66.26 431.12,66.30 431.60,66.34 432.07,66.39 432.55,66.45 433.02,66.52 433.49,66.59 433.97,66.67 434.44,66.76 434.92,66.85 435.39,66.95 435.87,67.06 436.34,67.18 436.82,67.30 437.29,67.43 437.76,67.56 438.24,67.70 438.71,67.85 439.19,68.01 439.66,68.17 440.14,68.33 440.61,68.50 441.09,68.68 441.56,68.86 442.04,69.05 442.51,69.24 442.98,69.44 443.46,69.64 443.93,69.84 444.41,70.05 444.88,70.26 445.36,70.48 445.83,70.70 446.31,70.93 446.78,71.15 447.25,71.38 447.73,71.61 448.20,71.85 448.68,72.08 449.15,72.32 449.63,72.56 450.10,72.80 450.58,73.05 451.05,73.29 451.53,73.54 452.00,73.78 452.47,74.03 452.95,74.27 453.42,74.52 453.90,74.76 454.37,75.00 454.85,75.25 455.32,75.49 455.80,75.80 456.27,76.33 456.74,76.87 457.22,77.39 457.69,77.92 458.17,78.43 458.64,78.94 459.12,79.45 459.59,79.94 460.07,80.43 460.54,80.91 461.02,81.38 461.49,81.84 461.96,82.29 462.44,82.73 462.91,83.16 463.39,83.58 463.86,83.99 464.34,84.39 464.81,84.77 465.29,85.14 465.76,85.50 466.23,85.84 466.71,86.17 467.18,86.49 467.66,86.79 468.13,87.08 468.61,87.35 469.08,87.61 469.56,87.85 470.03,88.08 470.50,88.28 470.98,88.48 471.45,88.66 471.93,88.82 472.40,88.96 472.88,89.09 473.35,89.20 473.83,89.29 474.30,89.37 474.78,89.43 475.25,89.47 475.72,89.49 476.20,89.50 476.67,89.49 477.15,89.46 477.62,89.42 478.10,89.35 478.57,89.27 479.05,89.18 479.52,89.06 480.00,88.93 480.47,88.79 480.94,88.62 481.42,88.44 481.89,88.24 482.37,88.03 482.84,87.80 483.32,87.56 483.79,87.30 484.27,87.02 484.74,86.73 485.21,86.42 485.69,86.11 486.16,85.77 486.64,85.42 487.11,85.06 487.59,84.69 488.06,84.30 488.54,83.91 489.01,83.50 489.49,83.07 489.96,82.64 490.43,82.20 490.91,81.75 491.38,81.28 491.86,80.81 492.33,80.33 492.81,79.84 493.28,79.34 493.76,78.84 494.23,78.33 494.70,77.81 495.18,77.28 495.65,76.76 496.13,76.22 496.60,75.68 497.08,75.44 497.55,75.20 498.03,74.95 498.50,74.71 498.98,74.46 499.45,74.22 499.92,73.97 500.40,73.73 500.87,73.48 501.35,73.24 501.82,73.00 502.30,72.75 502.77,72.51 503.25,72.27 503.72,72.04 504.19,71.80 504.67,71.57 505.14,71.33 505.62,71.11 506.09,70.88 506.57,70.66 507.04,70.44 507.52,70.22 507.99,70.01 508.47,69.80 508.94,69.59 509.41,69.39 509.89,69.20 510.36,69.01 510.84,68.82 511.31,68.64 511.79,68.47 512.26,68.30 512.74,68.13 513.21,67.97 513.68,67.82 514.16,67.67 514.63,67.53 515.11,67.40 515.58,67.27 516.06,67.15 516.53,67.04 517.01,66.93 517.48,66.83 517.96,66.74 518.43,66.65 518.90,66.57 519.38,66.50 519.85,66.44 520.33,66.38 520.80,66.33 521.28,66.29 521.75,66.26 522.23,66.23 522.70,66.21 522.7,121.7 332.9,121.7" fill="#e8c266"/>
<polyline points="332.90,54.33 333.37,54.31 333.85,54.30 334.32,54.31 334.80,54.34 335.27,54.38 335.75,54.45 336.22,54.53 336.70,54.62 337.17,54.74 337.64,54.87 338.12,55.01 338.59,55.18 339.07,55.36 339.54,55.56 340.02,55.77 340.49,56.00 340.97,56.24 341.44,56.50 341.92,56.78 342.39,57.07 342.86,57.38 343.34,57.69 343.81,58.03 344.29,58.38 344.76,58.74 345.24,59.11 345.71,59.50 346.19,59.89 346.66,60.30 347.13,60.73 347.61,61.16 348.08,61.60 348.56,62.05 349.03,62.52 349.51,62.99 349.98,63.47 350.46,63.96 350.93,64.46 351.41,64.96 351.88,65.47 352.35,65.99 352.83,66.52 353.30,67.04 353.78,67.58 354.25,68.12 354.73,68.66 355.20,69.20 355.68,69.75 356.15,70.30 356.62,70.85 357.10,71.40 357.57,71.96 358.05,72.51 358.52,73.06 359.00,73.61 359.47,74.16 359.95,74.71 360.42,75.25 360.90,75.80 361.37,76.33 361.84,76.87 362.32,77.39 362.79,77.92 363.27,78.43 363.74,78.94 364.22,79.45 364.69,79.94 365.17,80.43 365.64,80.91 366.12,81.38 366.59,81.84 367.06,82.29 367.54,82.73 368.01,83.16 368.49,83.58 368.96,83.99 369.44,84.39 369.91,84.77 370.39,85.14 370.86,85.50 371.33,85.84 371.81,86.17 372.28,86.49 372.76,86.79 373.23,87.08 373.71,87.35 374.18,87.61 374.66,87.85 375.13,88.08 375.61,88.28 376.08,88.48 376.55,88.66 377.03,88.82 377.50,88.96 377.98,89.09 378.45,89.20 378.93,89.29 379.40,89.37 379.88,89.43 380.35,89.47 380.82,89.49 381.30,89.50 381.77,89.49 382.25,89.46 382.72,89.42 383.20,89.35 383.67,89.27 384.15,89.18 384.62,89.06 385.10,88.93 385.57,88.79 386.04,88.62 386.52,88.44 386.99,88.24 387.47,88.03 387.94,87.80 388.42,87.56 388.89,87.30 389.37,87.02 389.84,86.73 390.31,86.42 390.79,86.11 391.26,85.77 391.74,85.42 392.21,85.06 392.69,84.69 393.16,84.30 393.64,83.91 394.11,83.50 394.58,83.07 395.06,82.64 395.53,82.20 396.01,81.75 396.48,81.28 396.96,80.81 397.43,80.33 397.91,79.84 398.38,79.34 398.86,78.84 399.33,78.33 399.80,77.81 400.28,77.28 400.75,76.76 401.23,76.22 401.70,75.68 402.18,75.14 402.65,74.60 403.13,74.05 403.60,73.50 404.07,72.95 404.55,72.40 405.02,71.84 405.50,71.29 405.97,70.74 406.45,70.19 406.92,69.64 407.40,69.09 407.87,68.55 408.35,68.00 408.82,67.47 409.29,66.93 409.77,66.41 410.24,65.88 410.72,65.37 411.19,64.86 411.67,64.35 412.14,63.86 412.62,63.37 413.09,62.89 413.56,62.42 414.04,61.96 414.51,61.51 414.99,61.07 415.46,60.64 415.94,60.22 416.41,59.81 416.89,59.41 417.36,59.03 417.84,58.66 418.31,58.30 418.78,57.96 419.26,57.63 419.73,57.31 420.21,57.01 420.68,56.72 421.16,56.45 421.63,56.19 422.11,55.95 422.58,55.72 423.06,55.52 423.53,55.32 424.00,55.14 424.48,54.98 424.95,54.84 425.43,54.71 425.90,54.60 426.38,54.51 426.85,54.43 427.33,54.37 427.80,54.33 428.27,54.31 428.75,54.30 429.22,54.31 429.70,54.34 430.17,54.38 430.65,54.45 431.12,54.53 431.60,54.62 432.07,54.74 432.55,54.87 433.02,55.01 433.49,55.18 433.97,55.36 434.44,55.56 434.92,55.77 435.39,56.00 435.87,56.24 436.34,56.50 436.82,56.78 437.29,57.07 437.76,57.38 438.24,57.69 438.71,58.03 439.19,58.38 439.66,58.74 440.14,59.11 440.61,59.50 441.09,59.89 441.56,60.30 442.04,60.73 442.51,61.16 442.98,61.60 443.46,62.05 443.93,62.52 444.41,62.99 444.88,63.47 445.36,63.96 445.83,64.46 446.31,64.96 446.78,65.47 447.25,65.99 447.73,66.52 448.20,67.04 448.68,67.58 449.15,68.12 449.63,68.66 450.10,69.20 450.58,69.75 451.05,70.30 451.53,70.85 452.00,71.40 452.47,71.96 452.95,72.51 453.42,73.06 453.90,73.61 454.37,74.16 454.85,74.71 455.32,75.25 455.80,75.80 456.27,76.33 456.74,76.87 457.22,77.39 457.69,77.92 458.17,78.43 458.64,78.94 459.12,79.45 459.59,79.94 460.07,80.43 460.54,80.91 461.02,81.38 461.49,81.84 461.96,82.29 462.44,82.73 462.91,83.16 463.39,83.58 463.86,83.99 464.34,84.39 464.81,84.77 465.29,85.14 465.76,85.50 466.23,85.84 466.71,86.17 467.18,86.49 467.66,86.79 468.13,87.08 468.61,87.35 469.08,87.61 469.56,87.85 470.03,88.08 470.50,88.28 470.98,88.48 471.45,88.66 471.93,88.82 472.40,88.96 472.88,89.09 473.35,89.20 473.83,89.29 474.30,89.37 474.78,89.43 475.25,89.47 475.72,89.49 476.20,89.50 476.67,89.49 477.15,89.46 477.62,89.42 478.10,89.35 478.57,89.27 479.05,89.18 479.52,89.06 480.00,88.93 480.47,88.79 480.94,88.62 481.42,88.44 481.89,88.24 482.37,88.03 482.84,87.80 483.32,87.56 483.79,87.30 484.27,87.02 484.74,86.73 485.21,86.42 485.69,86.11 486.16,85.77 486.64,85.42 487.11,85.06 487.59,84.69 488.06,84.30 488.54,83.91 489.01,83.50 489.49,83.07 489.96,82.64 490.43,82.20 490.91,81.75 491.38,81.28 491.86,80.81 492.33,80.33 492.81,79.84 493.28,79.34 493.76,78.84 494.23,78.33 494.70,77.81 495.18,77.28 495.65,76.76 496.13,76.22 496.60,75.68 497.08,75.14 497.55,74.60 498.03,74.05 498.50,73.50 498.98,72.95 499.45,72.40 499.92,71.84 500.40,71.29 500.87,70.74 501.35,70.19 501.82,69.64 502.30,69.09 502.77,68.55 503.25,68.00 503.72,67.47 504.19,66.93 504.67,66.41 505.14,65.88 505.62,65.37 506.09,64.86 506.57,64.35 507.04,63.86 507.52,63.37 507.99,62.89 508.47,62.42 508.94,61.96 509.41,61.51 509.89,61.07 510.36,60.64 510.84,60.22 511.31,59.81 511.79,59.41 512.26,59.03 512.74,58.66 513.21,58.30 513.68,57.96 514.16,57.63 514.63,57.31 515.11,57.01 515.58,56.72 516.06,56.45 516.53,56.19 517.01,55.95 517.48,55.72 517.96,55.52 518.43,55.32 518.90,55.14 519.38,54.98 519.85,54.84 520.33,54.71 520.80,54.60 521.28,54.51 521.75,54.43 522.23,54.37 522.70,54.33" fill="none" stroke="#b88a5a" stroke-width="1.6" stroke-dasharray="3.6,1.9"/>
<polyline points="332.90,66.21 333.37,66.20 333.85,66.20 334.32,66.20 334.80,66.22 335.27,66.24 335.75,66.26 336.22,66.30 336.70,66.34 337.17,66.39 337.64,66.45 338.12,66.52 338.59,66.59 339.07,66.67 339.54,66.76 340.02,66.85 340.49,66.95 340.97,67.06 341.44,67.18 341.92,67.30 342.39,67.43 342.86,67.56 343.34,67.70 343.81,67.85 344.29,68.01 344.76,68.17 345.24,68.33 345.71,68.50 346.19,68.68 346.66,68.86 347.13,69.05 347.61,69.24 348.08,69.44 348.56,69.64 349.03,69.84 349.51,70.05 349.98,70.26 350.46,70.48 350.93,70.70 351.41,70.93 351.88,71.15 352.35,71.38 352.83,71.61 353.30,71.85 353.78,72.08 354.25,72.32 354.73,72.56 355.20,72.80 355.68,73.05 356.15,73.29 356.62,73.54 357.10,73.78 357.57,74.03 358.05,74.27 358.52,74.52 359.00,74.76 359.47,75.00 359.95,75.25 360.42,75.49 360.90,75.73 361.37,75.96 361.84,76.20 362.32,76.43 362.79,76.67 363.27,76.89 363.74,77.12 364.22,77.34 364.69,77.56 365.17,77.78 365.64,77.99 366.12,78.20 366.59,78.41 367.06,78.61 367.54,78.80 368.01,78.99 368.49,79.18 368.96,79.36 369.44,79.53 369.91,79.70 370.39,79.87 370.86,80.03 371.33,80.18 371.81,80.33 372.28,80.47 372.76,80.60 373.23,80.73 373.71,80.85 374.18,80.96 374.66,81.07 375.13,81.17 375.61,81.26 376.08,81.35 376.55,81.43 377.03,81.50 377.50,81.56 377.98,81.62 378.45,81.67 378.93,81.71 379.40,81.74 379.88,81.77 380.35,81.79 380.82,81.80 381.30,81.80 381.77,81.80 382.25,81.78 382.72,81.76 383.20,81.74 383.67,81.70 384.15,81.66 384.62,81.61 385.10,81.55 385.57,81.48 386.04,81.41 386.52,81.33 386.99,81.24 387.47,81.15 387.94,81.05 388.42,80.94 388.89,80.82 389.37,80.70 389.84,80.57 390.31,80.44 390.79,80.30 391.26,80.15 391.74,79.99 392.21,79.83 392.69,79.67 393.16,79.50 393.64,79.32 394.11,79.14 394.58,78.95 395.06,78.76 395.53,78.56 396.01,78.36 396.48,78.16 396.96,77.95 397.43,77.74 397.91,77.52 398.38,77.30 398.86,77.07 399.33,76.85 399.80,76.62 400.28,76.39 400.75,76.15 401.23,75.92 401.70,75.68 402.18,75.44 402.65,75.20 403.13,74.95 403.60,74.71 404.07,74.46 404.55,74.22 405.02,73.97 405.50,73.73 405.97,73.48 406.45,73.24 406.92,73.00 407.40,72.75 407.87,72.51 408.35,72.27 408.82,72.04 409.29,71.80 409.77,71.57 410.24,71.33 410.72,71.11 411.19,70.88 411.67,70.66 412.14,70.44 412.62,70.22 413.09,70.01 413.56,69.80 414.04,69.59 414.51,69.39 414.99,69.20 415.46,69.01 415.94,68.82 416.41,68.64 416.89,68.47 417.36,68.30 417.84,68.13 418.31,67.97 418.78,67.82 419.26,67.67 419.73,67.53 420.21,67.40 420.68,67.27 421.16,67.15 421.63,67.04 422.11,66.93 422.58,66.83 423.06,66.74 423.53,66.65 424.00,66.57 424.48,66.50 424.95,66.44 425.43,66.38 425.90,66.33 426.38,66.29 426.85,66.26 427.33,66.23 427.80,66.21 428.27,66.20 428.75,66.20 429.22,66.20 429.70,66.22 430.17,66.24 430.65,66.26 431.12,66.30 431.60,66.34 432.07,66.39 432.55,66.45 433.02,66.52 433.49,66.59 433.97,66.67 434.44,66.76 434.92,66.85 435.39,66.95 435.87,67.06 436.34,67.18 436.82,67.30 437.29,67.43 437.76,67.56 438.24,67.70 438.71,67.85 439.19,68.01 439.66,68.17 440.14,68.33 440.61,68.50 441.09,68.68 441.56,68.86 442.04,69.05 442.51,69.24 442.98,69.44 443.46,69.64 443.93,69.84 444.41,70.05 444.88,70.26 445.36,70.48 445.83,70.70 446.31,70.93 446.78,71.15 447.25,71.38 447.73,71.61 448.20,71.85 448.68,72.08 449.15,72.32 449.63,72.56 450.10,72.80 450.58,73.05 451.05,73.29 451.53,73.54 452.00,73.78 452.47,74.03 452.95,74.27 453.42,74.52 453.90,74.76 454.37,75.00 454.85,75.25 455.32,75.49 455.80,75.73 456.27,75.96 456.74,76.20 457.22,76.43 457.69,76.67 458.17,76.89 458.64,77.12 459.12,77.34 459.59,77.56 460.07,77.78 460.54,77.99 461.02,78.20 461.49,78.41 461.96,78.61 462.44,78.80 462.91,78.99 463.39,79.18 463.86,79.36 464.34,79.53 464.81,79.70 465.29,79.87 465.76,80.03 466.23,80.18 466.71,80.33 467.18,80.47 467.66,80.60 468.13,80.73 468.61,80.85 469.08,80.96 469.56,81.07 470.03,81.17 470.50,81.26 470.98,81.35 471.45,81.43 471.93,81.50 472.40,81.56 472.88,81.62 473.35,81.67 473.83,81.71 474.30,81.74 474.78,81.77 475.25,81.79 475.72,81.80 476.20,81.80 476.67,81.80 477.15,81.78 477.62,81.76 478.10,81.74 478.57,81.70 479.05,81.66 479.52,81.61 480.00,81.55 480.47,81.48 480.94,81.41 481.42,81.33 481.89,81.24 482.37,81.15 482.84,81.05 483.32,80.94 483.79,80.82 484.27,80.70 484.74,80.57 485.21,80.44 485.69,80.30 486.16,80.15 486.64,79.99 487.11,79.83 487.59,79.67 488.06,79.50 488.54,79.32 489.01,79.14 489.49,78.95 489.96,78.76 490.43,78.56 490.91,78.36 491.38,78.16 491.86,77.95 492.33,77.74 492.81,77.52 493.28,77.30 493.76,77.07 494.23,76.85 494.70,76.62 495.18,76.39 495.65,76.15 496.13,75.92 496.60,75.68 497.08,75.44 497.55,75.20 498.03,74.95 498.50,74.71 498.98,74.46 499.45,74.22 499.92,73.97 500.40,73.73 500.87,73.48 501.35,73.24 501.82,73.00 502.30,72.75 502.77,72.51 503.25,72.27 503.72,72.04 504.19,71.80 504.67,71.57 505.14,71.33 505.62,71.11 506.09,70.88 506.57,70.66 507.04,70.44 507.52,70.22 507.99,70.01 508.47,69.80 508.94,69.59 509.41,69.39 509.89,69.20 510.36,69.01 510.84,68.82 511.31,68.64 511.79,68.47 512.26,68.30 512.74,68.13 513.21,67.97 513.68,67.82 514.16,67.67 514.63,67.53 515.11,67.40 515.58,67.27 516.06,67.15 516.53,67.04 517.01,66.93 517.48,66.83 517.96,66.74 518.43,66.65 518.90,66.57 519.38,66.50 519.85,66.44 520.33,66.38 520.80,66.33 521.28,66.29 521.75,66.26 522.23,66.23 522.70,66.21" fill="none" stroke="#ff44ff" stroke-width="1.8"/>
<line x1="332.6" y1="54.3" x2="523" y2="54.3" stroke="#ff44ff" stroke-width="1.2" stroke-dasharray="7,1.3,2.6,1.3"/>
<line x1="428.8" y1="106" x2="428.8" y2="44" stroke="#222" stroke-width="0.5" marker-end="url(#ar)"/>
<line x1="427" y1="89.6" x2="536" y2="89.6" stroke="#222" stroke-width="0.5" marker-end="url(#ar)"/>
<text class="r" x="431" y="50.5" font-size="8.5" font-style="italic">y</text>
<text class="r" x="539" y="92" font-size="8.5" font-style="italic">x</text>
<line x1="475" y1="82" x2="475" y2="106" stroke="#55cc55" stroke-width="0.6"/>
<line x1="475" y1="80" x2="475" y2="55.3" stroke="#55cc55" stroke-width="0.6" marker-end="url(#arG)"/>
<line x1="475" y1="84" x2="475" y2="89" stroke="#55cc55" stroke-width="0.6" marker-end="url(#arG)"/>
<line x1="449.5" y1="66" x2="449.5" y2="98" stroke="#55cc55" stroke-width="0.6"/>
<line x1="429.3" y1="96.4" x2="449" y2="96.4" stroke="#55cc55" stroke-width="0.6" marker-start="url(#arG)" marker-end="url(#arG)"/>
<line x1="429.3" y1="103.9" x2="474.5" y2="103.9" stroke="#55cc55" stroke-width="0.6" marker-start="url(#arG)" marker-end="url(#arG)"/>
<line x1="519.3" y1="59" x2="519.3" y2="64.5" stroke="#55cc55" stroke-width="0.6" marker-end="url(#arG)"/>
<line x1="519.3" y1="73" x2="519.3" y2="68" stroke="#55cc55" stroke-width="0.6" marker-end="url(#arG)"/>
<line x1="354.5" y1="66.5" x2="355.5" y2="69" stroke="#55cc55" stroke-width="1"/>
<line x1="349.3" y1="61.5" x2="350.3" y2="63" stroke="#333" stroke-width="0.8"/>
<circle cx="428.8" cy="66.2" r="1.7" fill="#000"/>
<circle cx="449.5" cy="75.8" r="1.7" fill="#000"/>
<circle cx="475" cy="81.8" r="1.7" fill="#000"/>
<text class="r" x="429.8" y="63.8" font-size="7" font-style="italic">A</text>
<text class="r" x="443.6" y="83" font-size="7.5" font-style="italic">B</text>
<text class="r" x="477.2" y="79.5" font-size="7" font-style="italic">C</text>
<text class="r" x="492" y="51" font-size="8.5" font-style="italic" fill="#222">E<tspan font-size="6" dy="1.5">m</tspan></text>
<text class="r" x="479.3" y="71.5" font-size="8" fill="#222">2<tspan font-style="italic">h</tspan><tspan font-size="5.5" dy="1.5">0</tspan></text>
<text class="r" x="512.3" y="76.8" font-size="8.5" font-style="italic" fill="#222">τ</text>
<text class="r" x="435.8" y="94" font-size="8" font-style="italic" fill="#222">x<tspan font-size="5.5" dy="1.5">c</tspan></text>
<text class="r" x="451" y="102.3" font-size="8" fill="#222"><tspan font-style="italic">λ</tspan>/2</text>
<text class="r" x="486.5" y="105" font-size="8.5" font-style="italic" fill="#222">E<tspan font-size="6" dy="1.5">s</tspan></text>
<text class="s" x="547.6" y="11.1" font-size="15.5" font-weight="bold">d</text>
<line x1="586.23" y1="72.15" x2="586.23" y2="27.65" stroke="#c4c4c4" stroke-width="0.5"/>
<line x1="605.05" y1="69.30" x2="605.05" y2="24.80" stroke="#c4c4c4" stroke-width="0.5"/>
<line x1="623.88" y1="66.45" x2="623.88" y2="21.95" stroke="#c4c4c4" stroke-width="0.5"/>
<line x1="642.70" y1="63.60" x2="642.70" y2="19.10" stroke="#c4c4c4" stroke-width="0.5"/>
<line x1="567.40" y1="52.75" x2="642.70" y2="41.35" stroke="#c4c4c4" stroke-width="0.5"/>
<line x1="567.40" y1="30.50" x2="642.70" y2="19.10" stroke="#c4c4c4" stroke-width="0.5"/>
<line x1="656.70" y1="81.95" x2="656.70" y2="37.45" stroke="#c4c4c4" stroke-width="0.5"/>
<line x1="670.70" y1="100.30" x2="670.70" y2="55.80" stroke="#c4c4c4" stroke-width="0.5"/>
<line x1="642.70" y1="41.35" x2="670.70" y2="78.05" stroke="#c4c4c4" stroke-width="0.5"/>
<line x1="642.70" y1="19.10" x2="670.70" y2="55.80" stroke="#c4c4c4" stroke-width="0.5"/>
<line x1="586.23" y1="72.15" x2="614.23" y2="108.85" stroke="#c4c4c4" stroke-width="0.5"/>
<line x1="605.05" y1="69.30" x2="633.05" y2="106.00" stroke="#c4c4c4" stroke-width="0.5"/>
<line x1="623.88" y1="66.45" x2="651.88" y2="103.15" stroke="#c4c4c4" stroke-width="0.5"/>
<line x1="581.40" y1="93.35" x2="656.70" y2="81.95" stroke="#c4c4c4" stroke-width="0.5"/>
<line x1="567.40" y1="75.00" x2="642.70" y2="63.60" stroke="#c4c4c4" stroke-width="0.5"/>
<line x1="642.70" y1="63.60" x2="670.70" y2="100.30" stroke="#c4c4c4" stroke-width="0.5"/>
<polygon points="579.7,42.6 602.6,72 602.9,108.9 579.7,78" fill="url(#surfL)"/>
<polygon points="572,32 578.9,30.9 602.6,66 602.6,72 579.7,42.6" fill="#ff2010"/>
<path d="M649,29 C645.5,33 643.6,39 643.6,46 C643.6,55 644.2,64 646,71 C648,79 650.5,88 653.3,99 C658,97.5 662.5,96 667.5,93.5 C665.5,88 663.5,82 661.5,75 C659.5,68 657.5,60 655.5,51 C654,43 652.5,35 649,29 Z" fill="url(#surfR)"/>
<line x1="567.40" y1="75.00" x2="567.40" y2="30.50" stroke="#111" stroke-width="0.9"/>
<line x1="567.40" y1="75.00" x2="595.40" y2="111.70" stroke="#111" stroke-width="1.0"/>
<line x1="595.40" y1="111.70" x2="670.70" y2="100.30" stroke="#111" stroke-width="1.0"/>
<path d="M567.40,75.00 l2,-0.3 M567.40,52.75 l2,-0.3 M567.40,30.50 l2,-0.3 M567.40,75.00 l2,-0.3 M581.40,93.35 l2,-0.3 M595.40,111.70 l2,-0.3 M595.40,111.70 l-0.8,-1.2 M614.23,108.85 l-0.8,-1.2 M633.05,106.00 l-0.8,-1.2 M651.88,103.15 l-0.8,-1.2 M670.70,100.30 l-0.8,-1.2" stroke="#000" stroke-width="0.6"/>
<text font-family="Liberation Sans" font-weight="bold" font-size="7" fill="#222" x="564.6" y="32.9" text-anchor="end">1.1</text>
<text font-family="Liberation Sans" font-weight="bold" font-size="7" fill="#222" x="564.6" y="54.6" text-anchor="end">1</text>
<text font-family="Liberation Sans" font-weight="bold" font-size="7" fill="#222" x="564.6" y="76.2" text-anchor="end">0.9</text>
<text font-family="Liberation Sans" font-weight="bold" font-size="7" fill="#222" x="563.3" y="85.6" text-anchor="end">3.5</text>
<text font-family="Liberation Sans" font-weight="bold" font-size="7" fill="#222" x="576.5" y="102.6" text-anchor="end">3</text>
<text font-family="Liberation Sans" font-weight="bold" font-size="7" fill="#222" x="591.2" y="120.8" text-anchor="end">2.5</text>
<text font-family="Liberation Serif" font-size="6.2" fill="#333" x="556" y="91.2">×10<tspan font-size="4.5" dy="-2.2">−3</tspan></text>
<text font-family="Liberation Sans" font-size="3.5" fill="#555" x="541" y="87.5">x</text>
<text font-family="Liberation Sans" font-weight="bold" font-size="7" fill="#222" x="597.8" y="122.7">0</text>
<text font-family="Liberation Sans" font-weight="bold" font-size="7" fill="#222" x="616.5" y="120.2">0.05</text>
<text font-family="Liberation Sans" font-weight="bold" font-size="7" fill="#222" x="634.7" y="115.9">0.1</text>
<text font-family="Liberation Sans" font-weight="bold" font-size="7" fill="#222" x="653.7" y="113.4">0.15</text>
<text font-family="Liberation Sans" font-weight="bold" font-size="7" fill="#222" x="672.4" y="111">0.2</text>
<text font-family="Liberation Serif" font-weight="bold" font-style="italic" font-size="10.5" fill="#111" x="550" y="55.7">α</text>
<text font-family="Liberation Serif" font-weight="bold" font-style="italic" font-size="10.5" fill="#111" x="559.8" y="106.3">μ</text>
<text font-family="Liberation Serif" font-weight="bold" font-style="italic" font-size="10.5" fill="#111" x="636.6" y="126.8">η</text>
<text font-family="Liberation Serif" font-weight="bold" font-size="9" fill="#111" lengthAdjust="spacingAndGlyphs" x="573.8" y="79.2" textLength="9.8">PC</text>
<text font-family="Liberation Serif" font-weight="bold" font-size="9" fill="#111" lengthAdjust="spacingAndGlyphs" x="616.8" y="71.7" textLength="9.7">PC</text>
<text font-family="Liberation Serif" font-weight="bold" font-size="9" fill="#111" lengthAdjust="spacingAndGlyphs" x="658.2" y="71.7" textLength="10.3">NC</text>
<text class="s" x="-0.3" y="150.2" font-size="15.6" font-weight="bold">e</text>
<ellipse cx="94.2" cy="215" rx="73.5" ry="41.5" fill="url(#eOut)"/>
<path d="M43,199.4 C43.03,196.13 43.07,194.02 44.5,192 C45.93,189.98 49.02,188.90 51.6,187.3 C54.18,185.70 56.60,184.03 60,182.4 C63.40,180.77 68.00,178.73 72,177.5 C76.00,176.27 80.43,175.52 84,175 C87.57,174.48 90.23,174.37 93.4,174.4 C96.57,174.43 100.07,174.80 103,175.2 C105.93,175.60 108.42,176.67 111,176.8 C113.58,176.93 115.87,175.55 118.5,176 C121.13,176.45 124.22,178.02 126.8,179.5 C129.38,180.98 131.63,183.15 134,184.9 C136.37,186.65 139.17,187.58 141,190 C142.83,192.42 144.53,196.62 145,199.4 C145.47,202.18 144.40,203.87 143.8,206.7 C143.20,209.53 142.62,213.57 141.4,216.4 C140.18,219.23 138.93,221.47 136.5,223.7 C134.07,225.93 130.05,228.38 126.8,229.8 C123.55,231.22 120.63,231.52 117,232.2 C113.37,232.88 109.03,233.70 105,233.9 C100.97,234.10 96.85,233.68 92.8,233.4 C88.75,233.12 84.75,233.02 80.7,232.2 C76.65,231.38 72.15,229.72 68.5,228.5 C64.85,227.28 62.03,226.52 58.8,224.9 C55.57,223.28 51.52,221.02 49.1,218.8 C46.68,216.58 45.32,214.83 44.3,211.6 C43.28,208.37 42.97,202.67 43,199.4 Z" fill="#b6b6b6"/>
<ellipse cx="94.6" cy="202.2" rx="37.1" ry="21" fill="#aeaeae" stroke="#a8a8a8" stroke-width="1"/>
<path d="M93.6,202 V163 M93.6,202 H104" stroke="#111" stroke-width="0.8" fill="none"/>
<path d="M93.6,158.3 L96.1,164.8 L93.6,163.2 L91.1,164.8 Z M109.8,202 L103.3,204.5 L104.9,202 L103.3,199.5 Z" fill="#111"/>
<text class="r" x="96.6" y="159" font-size="7.5" font-style="italic">z</text>
<text class="r" x="111.3" y="203.6" font-size="8" font-style="italic">s</text>
<text class="r" x="69.6" y="212.6" font-size="9">Ω<tspan font-size="6.5" dy="-3.5" font-style="italic">α</tspan></text>
<text class="r" x="52.2" y="221.8" font-size="9">Ω<tspan font-size="6.5" dy="-3.5" font-style="italic">β</tspan></text>
<path d="M93.2,264 v11 M130.5,264 v11 M93.2,277.3 v11 M145.6,277.3 v11" stroke="#000" stroke-width="0.7"/>
<path d="M94,270.3 H104.6 M118.2,270.3 H130 M94,282.4 H112.4 M126,282.4 H145" stroke="#000" stroke-width="0.8" fill="none"/>
<path d="M93.7,270.3 L99.70,268.00 L98.02,270.3 L99.70,272.60 Z M130,270.3 L124.00,268.00 L125.68,270.3 L124.00,272.60 Z M93.7,282.4 L99.70,280.10 L98.02,282.4 L99.70,284.70 Z M145.1,282.4 L139.10,280.10 L140.78,282.4 L139.10,284.70 Z" fill="#000"/>
<text class="r" x="109.7" y="272.7" font-size="9" font-style="italic">v</text>
<text class="r" x="115.6" y="285.2" font-size="9.5" font-style="italic">R</text>
<text class="s" x="179.8" y="149.3" font-size="15" font-weight="bold">f</text>
<rect x="212.5" y="146.5" width="191.5" height="137.89999999999998" fill="none" stroke="#222" stroke-width="0.6"/>
<text class="r" x="213.20" y="294.5" font-size="6.5" text-anchor="middle">0</text>
<text class="r" x="236.84" y="294.5" font-size="6.5" text-anchor="middle">2</text>
<text class="r" x="260.48" y="294.5" font-size="6.5" text-anchor="middle">4</text>
<text class="r" x="284.11" y="294.5" font-size="6.5" text-anchor="middle">6</text>
<text class="r" x="307.75" y="294.5" font-size="6.5" text-anchor="middle">8</text>
<text class="r" x="331.39" y="294.5" font-size="6.5" text-anchor="middle">10</text>
<text class="r" x="355.02" y="294.5" font-size="6.5" text-anchor="middle">12</text>
<text class="r" x="378.66" y="294.5" font-size="6.5" text-anchor="middle">14</text>
<text class="r" x="402.30" y="294.5" font-size="6.5" text-anchor="middle">16</text>
<text class="r" x="208.5" y="286.60" font-size="6.5" text-anchor="end">0</text>
<text class="r" x="208.5" y="266.90" font-size="6.5" text-anchor="end">5</text>
<text class="r" x="208.5" y="247.20" font-size="6.5" text-anchor="end">10</text>
<text class="r" x="208.5" y="227.50" font-size="6.5" text-anchor="end">15</text>
<text class="r" x="208.5" y="207.80" font-size="6.5" text-anchor="end">20</text>
<text class="r" x="208.5" y="188.10" font-size="6.5" text-anchor="end">25</text>
<text class="r" x="208.5" y="168.40" font-size="6.5" text-anchor="end">30</text>
<text class="r" x="208.5" y="148.70" font-size="6.5" text-anchor="end">35</text>
<path d="M213.20,284.4 v-2 M213.20,146.5 v2 M236.84,284.4 v-2 M236.84,146.5 v2 M260.48,284.4 v-2 M260.48,146.5 v2 M284.11,284.4 v-2 M284.11,146.5 v2 M307.75,284.4 v-2 M307.75,146.5 v2 M331.39,284.4 v-2 M331.39,146.5 v2 M355.02,284.4 v-2 M355.02,146.5 v2 M378.66,284.4 v-2 M378.66,146.5 v2 M402.30,284.4 v-2 M402.30,146.5 v2 M212.5,284.40 h2 M404,284.40 h-2 M212.5,264.70 h2 M404,264.70 h-2 M212.5,245.00 h2 M404,245.00 h-2 M212.5,225.30 h2 M404,225.30 h-2 M212.5,205.60 h2 M404,205.60 h-2 M212.5,185.90 h2 M404,185.90 h-2 M212.5,166.20 h2 M404,166.20 h-2 M212.5,146.50 h2 M404,146.50 h-2" stroke="#222" stroke-width="0.5" fill="none"/>
<text class="r" transform="translate(195.6,227.6) rotate(-90)" font-size="9"><tspan font-style="italic">a</tspan> (mm)</text>
<text class="r" y="307.5" font-size="9"><tspan x="277.1" font-style="italic">R</tspan><tspan x="283.6">(</tspan><tspan x="286" font-style="italic">Υ</tspan><tspan x="292">/</tspan><tspan x="294.6" font-style="italic">Eh</tspan><tspan x="305.8">)</tspan><tspan x="309" y="302.5" font-size="5">1/4</tspan><tspan x="318.2" y="307.5">(mm)</tspan></text>
<line x1="213.20" y1="284.40" x2="404" y2="164.8" stroke="#222" stroke-width="0.7"/>
<g fill="none" stroke="#222" stroke-width="0.6"><circle cx="218.52" cy="280.85" r="2.2"/><rect x="217.60" y="277.57" width="4.20" height="4.20"/><circle cx="220.29" cy="280.46" r="2.2"/><circle cx="221.47" cy="278.88" r="2.2"/><rect x="219.96" y="277.57" width="4.20" height="4.20"/><circle cx="223.25" cy="278.10" r="2.2"/><path d="M223.84,275.01 L226.14,279.15 L221.54,279.15 Z"/><rect x="222.33" y="276.39" width="4.20" height="4.20"/><circle cx="225.02" cy="276.91" r="2.2"/><rect x="223.51" y="275.60" width="4.20" height="4.20"/><circle cx="226.20" cy="276.13" r="2.2"/><rect x="225.28" y="273.63" width="4.20" height="4.20"/><circle cx="227.97" cy="274.55" r="2.2"/><path d="M228.56,273.04 L230.86,277.18 L226.26,277.18 Z"/><circle cx="229.75" cy="273.76" r="2.2"/><rect x="228.24" y="272.45" width="4.20" height="4.20"/><rect x="230.48" y="270.20" width="4.20" height="4.20"/><circle cx="236.72" cy="269.03" r="2.2"/><circle cx="239.08" cy="267.46" r="2.2"/><rect x="235.92" y="266.15" width="4.20" height="4.20"/><rect x="243.48" y="265.75" width="4.20" height="4.20"/><rect x="243.48" y="263.39" width="4.20" height="4.20"/><path d="M246.29,261.61 L248.59,265.75 L243.99,265.75 Z"/><circle cx="248.07" cy="262.73" r="2.2"/><path d="M247.47,263.06 L249.77,258.92 L245.17,258.92 Z"/><circle cx="251.97" cy="257.02" r="2.2"/><rect x="250.10" y="256.30" width="4.20" height="4.20"/><circle cx="252.79" cy="256.43" r="2.2"/><rect x="258.02" y="251.57" width="4.20" height="4.20"/><rect x="258.02" y="253.93" width="4.20" height="4.20"/><rect x="258.02" y="256.30" width="4.20" height="4.20"/><circle cx="260.48" cy="254.85" r="2.2"/><circle cx="265.79" cy="250.91" r="2.2"/><circle cx="265.79" cy="249.73" r="2.2"/><path d="M275.48,236.79 L277.78,240.93 L273.18,240.93 Z"/><path d="M275.48,238.76 L277.78,242.90 L273.18,242.90 Z"/><rect x="273.38" y="243.29" width="4.20" height="4.20"/><rect x="273.74" y="246.05" width="4.20" height="4.20"/><rect x="273.74" y="249.20" width="4.20" height="4.20"/><rect x="273.74" y="251.96" width="4.20" height="4.20"/><circle cx="274.66" cy="242.64" r="2.2"/><circle cx="282.58" cy="232.79" r="2.2"/><circle cx="282.58" cy="238.10" r="2.2"/><circle cx="282.58" cy="243.42" r="2.2"/><path d="M285.29,229.70 L287.59,233.84 L282.99,233.84 Z"/><circle cx="284.70" cy="235.15" r="2.2"/><rect x="282.01" y="238.17" width="4.20" height="4.20"/><path d="M290.02,247.89 L292.32,243.75 L287.72,243.75 Z"/><circle cx="293.33" cy="228.85" r="2.2"/><circle cx="293.57" cy="234.76" r="2.2"/><rect x="295.25" y="232.66" width="4.20" height="4.20"/><rect x="295.25" y="235.41" width="4.20" height="4.20"/><rect x="295.25" y="237.78" width="4.20" height="4.20"/><rect x="292.65" y="231.47" width="4.20" height="4.20"/><rect x="300.10" y="219.65" width="4.20" height="4.20"/><circle cx="302.20" cy="220.57" r="2.2"/><rect x="299.74" y="220.84" width="4.20" height="4.20"/><rect x="308.37" y="228.91" width="4.20" height="4.20"/><rect x="308.37" y="233.44" width="4.20" height="4.20"/><rect x="308.37" y="235.02" width="4.20" height="4.20"/><rect x="320.42" y="220.05" width="4.20" height="4.20"/><rect x="320.42" y="223.20" width="4.20" height="4.20"/><rect x="320.42" y="225.56" width="4.20" height="4.20"/><path d="M334.93,184.39 L337.23,188.53 L332.63,188.53 Z"/><rect x="332.83" y="187.74" width="4.20" height="4.20"/><circle cx="349.12" cy="188.66" r="2.2"/><circle cx="349.12" cy="198.31" r="2.2"/><rect x="375.38" y="175.92" width="4.20" height="4.20"/><rect x="375.38" y="183.01" width="4.20" height="4.20"/><rect x="375.38" y="185.77" width="4.20" height="4.20"/></g>
<g class="r" font-size="6.8">
<text x="347.1" y="258.30">PP</text><text x="357.3" y="258.30">90</text><text x="367" y="258.30">μm</text>
<text x="347.1" y="265.77">PP</text><text x="357.3" y="265.77">50</text><text x="367" y="265.77">μm</text>
<text x="347.1" y="273.24">PP</text><text x="357.3" y="273.24">30</text><text x="367" y="273.24">μm</text>
<text x="347.1" y="280.71">PP</text><text x="357.3" y="280.71">15</text><text x="367" y="280.71">μm</text>
</g>
<g fill="none" stroke="#333" stroke-width="0.55"><path d="M383.50,258.30 L385.80,254.16 L381.20,254.16 Z"/><path d="M383.50,261.00 L385.80,265.14 L381.20,265.14 Z"/><circle cx="383.50" cy="270.90" r="2.3"/><rect x="381.30" y="276.20" width="4.40" height="4.40"/></g>
<circle cx="284.4" cy="191" r="27.3" fill="#fff" stroke="#222" stroke-width="0.6"/>
<path d="M284.1,164.3 C282,170 281.3,176 281.5,183 C281.7,189 281,193 276,195.5 C271,197.5 265,197.8 259.6,199 M288,164.9 C286.3,170 285.8,176 286.1,183 C286.4,190 287,194 290,198.5 C293.5,203 298,206 303.8,208.8 M260.2,203.2 C266,202 274,201.6 280,201 C285,200.6 287.5,202 290.5,205 C293.5,208 296.5,210.5 300.8,212.5" fill="none" stroke="#222" stroke-width="0.55"/>
<circle cx="285.3" cy="185.5" r="2.4" fill="#fff" stroke="#222" stroke-width="0.5"/>
<text class="r" x="288.3" y="186.8" font-size="6.5" font-style="italic">a</text>
<text class="r" x="216.2" y="160.7" font-size="8.6">Unstuck parts</text>
<text class="r" x="314.7" y="168.4" font-size="8.65">Contact zone</text>
<path d="M246.5,163 L269.6,180.4 M243,163 L273.4,207.6" fill="none" stroke="#222" stroke-width="0.5"/>
<path d="M269.6,180.4 l-3.2,-1 l1.2,-1.5 z M273.4,207.6 l-2.4,-2.2 l1.7,-0.9 z" fill="#222"/>
<line x1="313.5" y1="167" x2="283" y2="177.3" stroke="#222" stroke-width="0.5" marker-end="url(#ar2)"/>
<text class="r" x="423.7" y="149.5" font-size="16" font-weight="bold">g</text>
<path d="M455.7,171 A30.8,31 0 0 0 517.3,171 Z" fill="url(#bowl)"/>
<path d="M455.7,171 A30.8,31 0 0 0 517.3,171" fill="none" stroke="#444" stroke-width="0.55"/>
<path d="M470.8,198.5 L473,195.5 L476,195 L478,192.5 L480.5,194 L483,192 L485.5,193.5 L488,191.6 L490.5,193.8 L493,193 L495.5,194.5 L498,193.8 L500,196 L501.8,197.5 C497,200.8 478,201.5 470.8,198.5 Z" fill="#d29a36"/>
<path d="M475,199 L479,196.5 L482,198.5 L486,196 L489,198.8 L493,196.5 L497,199" fill="none" stroke="#9a6a20" stroke-width="0.6"/>
<ellipse cx="486.5" cy="171" rx="30.8" ry="7.3" fill="#fafafa" stroke="#444" stroke-width="0.6"/>
<circle cx="486.2" cy="254.5" r="33" fill="none" stroke="#e8833a" stroke-width="1.5"/>
<path d="M469.6,226.3 L474.5,235 M519,255.5 L509,255.5 M470.8,283.4 L475.2,275.5" stroke="#e8833a" stroke-width="1.5"/>
<g clip-path="url(#c1)">
<rect x="525" y="145" width="68" height="68" fill="#3658f0"/>
<rect x="525" y="145" width="68" height="68" fill="#fff" filter="url(#nzE)" opacity="0.5"/>
<ellipse cx="545" cy="153" rx="7" ry="5" fill="url(#blC)" opacity="0.45"/>
<ellipse cx="570" cy="163" rx="7" ry="5" fill="url(#blC)" opacity="0.4"/>
<ellipse cx="552" cy="196" rx="6" ry="5" fill="url(#blC)" opacity="0.3"/>
<ellipse cx="561.2" cy="150.5" rx="5" ry="11" fill="url(#blY)"/>
<ellipse cx="530.5" cy="175.5" rx="10" ry="5.5" fill="url(#blY)"/>
<ellipse cx="588" cy="168.7" rx="7" ry="4.5" fill="url(#blC)"/>
<ellipse cx="569" cy="202" rx="7.5" ry="12" transform="rotate(-22 569 202)" fill="url(#blO)"/>
</g>
<line x1="559.7" y1="178.6" x2="545" y2="203.5" stroke="#5c5" stroke-width="0.8" marker-end="url(#arG)"/>
<line x1="559.7" y1="178.6" x2="560.8" y2="150" stroke="#5c5" stroke-width="0.8" stroke-dasharray="0.8,1"/>
<line x1="559.7" y1="178.6" x2="566.2" y2="191.6" stroke="#5c5" stroke-width="0.8" stroke-dasharray="2,1.2"/>
<text class="r" x="561.3" y="170.8" font-size="8" fill="#e4e4e4">1</text>
<text class="r" x="545.6" y="192.2" font-size="8" fill="#e4e4e4">0</text>
<text class="r" x="557.5" y="195.3" font-size="8" fill="#e4e4e4">2</text>
<g clip-path="url(#c2)">
<rect x="594" y="145" width="66" height="66" fill="#2d4ae4"/>
<rect x="594" y="145" width="66" height="66" fill="#fff" filter="url(#nzC2)"/>
<rect x="594" y="145" width="66" height="66" fill="#fff" filter="url(#nzD)"/>
<ellipse cx="633" cy="150" rx="8" ry="13" fill="url(#blG)"/>
<ellipse cx="596" cy="180.5" rx="18" ry="7" fill="url(#bl)"/>
<ellipse cx="647" cy="195" rx="9" ry="13" transform="rotate(-45 647 195)" fill="url(#bl)"/>
<ellipse cx="620.6" cy="206" rx="7" ry="7" fill="url(#blC)"/>
</g>
<line x1="627.2" y1="177.5" x2="632.7" y2="207" stroke="#e22" stroke-width="0.8" marker-end="url(#arR)"/>
<line x1="627.2" y1="177.5" x2="599" y2="180" stroke="#e22" stroke-width="1.3" stroke-dasharray="1,1.2"/>
<line x1="627.2" y1="177.5" x2="645" y2="193" stroke="#e22" stroke-width="0.8" stroke-dasharray="2,1.2"/>
<text class="r" x="611" y="176.5" font-size="8" fill="#e4e4e4">1</text>
<text class="r" x="636.3" y="182.2" font-size="8" fill="#e4e4e4">2</text>
<text class="r" x="623" y="196.8" font-size="8" fill="#e4e4e4">0</text>
<g clip-path="url(#c3)">
<rect x="526" y="222" width="67" height="67" fill="#3c54f6"/>
<path d="M538,226 L560,226 L560,236 L584,236 L584,262 L572,262 L572,272 L560,272 L560,285 L538,285 Z" fill="#4a88f2"/>
<path d="M538,226 L560,226 L560,236 L584,236 L584,262 L572,262 L572,272 L560,272 L560,285 L538,285 Z" fill="#fff" filter="url(#nzL)"/>
<path d="M538,233 H560 M538,241 H560 M538,249 H560 M538,258 H560 M538,266 H560 M538,275 H560 M549,226 V285" stroke="#3c66d8" stroke-width="0.6" opacity="0.6"/>
<ellipse cx="547" cy="240.8" rx="3.8" ry="5" fill="url(#bl2)"/>
<ellipse cx="553.4" cy="255.3" rx="4.2" ry="3.8" fill="url(#blY)"/>
<ellipse cx="552" cy="270.6" rx="4.2" ry="6.5" fill="url(#bl2)"/>
<ellipse cx="577.2" cy="251.1" rx="7.5" ry="5" fill="url(#bl2)"/>
<circle cx="539.6" cy="253.4" r="1" fill="#111"/>
</g>
<g clip-path="url(#c4)">
<rect x="595" y="222" width="64" height="64" fill="#2656d2"/>
<rect x="595" y="222" width="64" height="64" fill="#fff" filter="url(#nzC)"/>
<circle cx="619.1" cy="238.5" r="7.5" fill="url(#bl2)"/>
<circle cx="644.3" cy="253.4" r="8" fill="url(#bl2)"/>
<circle cx="617.7" cy="267.7" r="8" fill="url(#bl2)"/>
<path d="M619,238 L608,224 M644,253 L658,255 M617,268 L610,282" stroke="#cde" stroke-width="0.5"/>
</g>
<rect x="663.3" y="150" width="5.5" height="51.4" fill="url(#jet)"/>
<rect x="664.2" y="229.3" width="5.2" height="53.7" fill="url(#jet)"/>
<path d="M668.8,150.3 h2.5 M668.8,201.1 h2.5 M669.4,229.6 h2.5 M669.4,282.7 h2.5" stroke="#222" stroke-width="0.5"/>
<text class="r" x="671" y="153.5" font-size="8.2">0.4</text>
<text class="r" x="671" y="203.6" font-size="8.2">0</text>
<text class="r" x="671" y="232.3" font-size="8.2">0.23</text>
<text class="r" x="671" y="285.4" font-size="8.2">0</text>
<text class="r" x="660.3" y="212.2" font-size="9.4">Gap</text>
<text class="r" x="658.3" y="222.2" font-size="9.4">(mm)</text>
<text class="s" x="534.3" y="302.9" font-size="9.5">Experiment</text>
<text class="s" x="612.5" y="300.8" font-size="9.6">CGMD</text>
</svg></body></html>
